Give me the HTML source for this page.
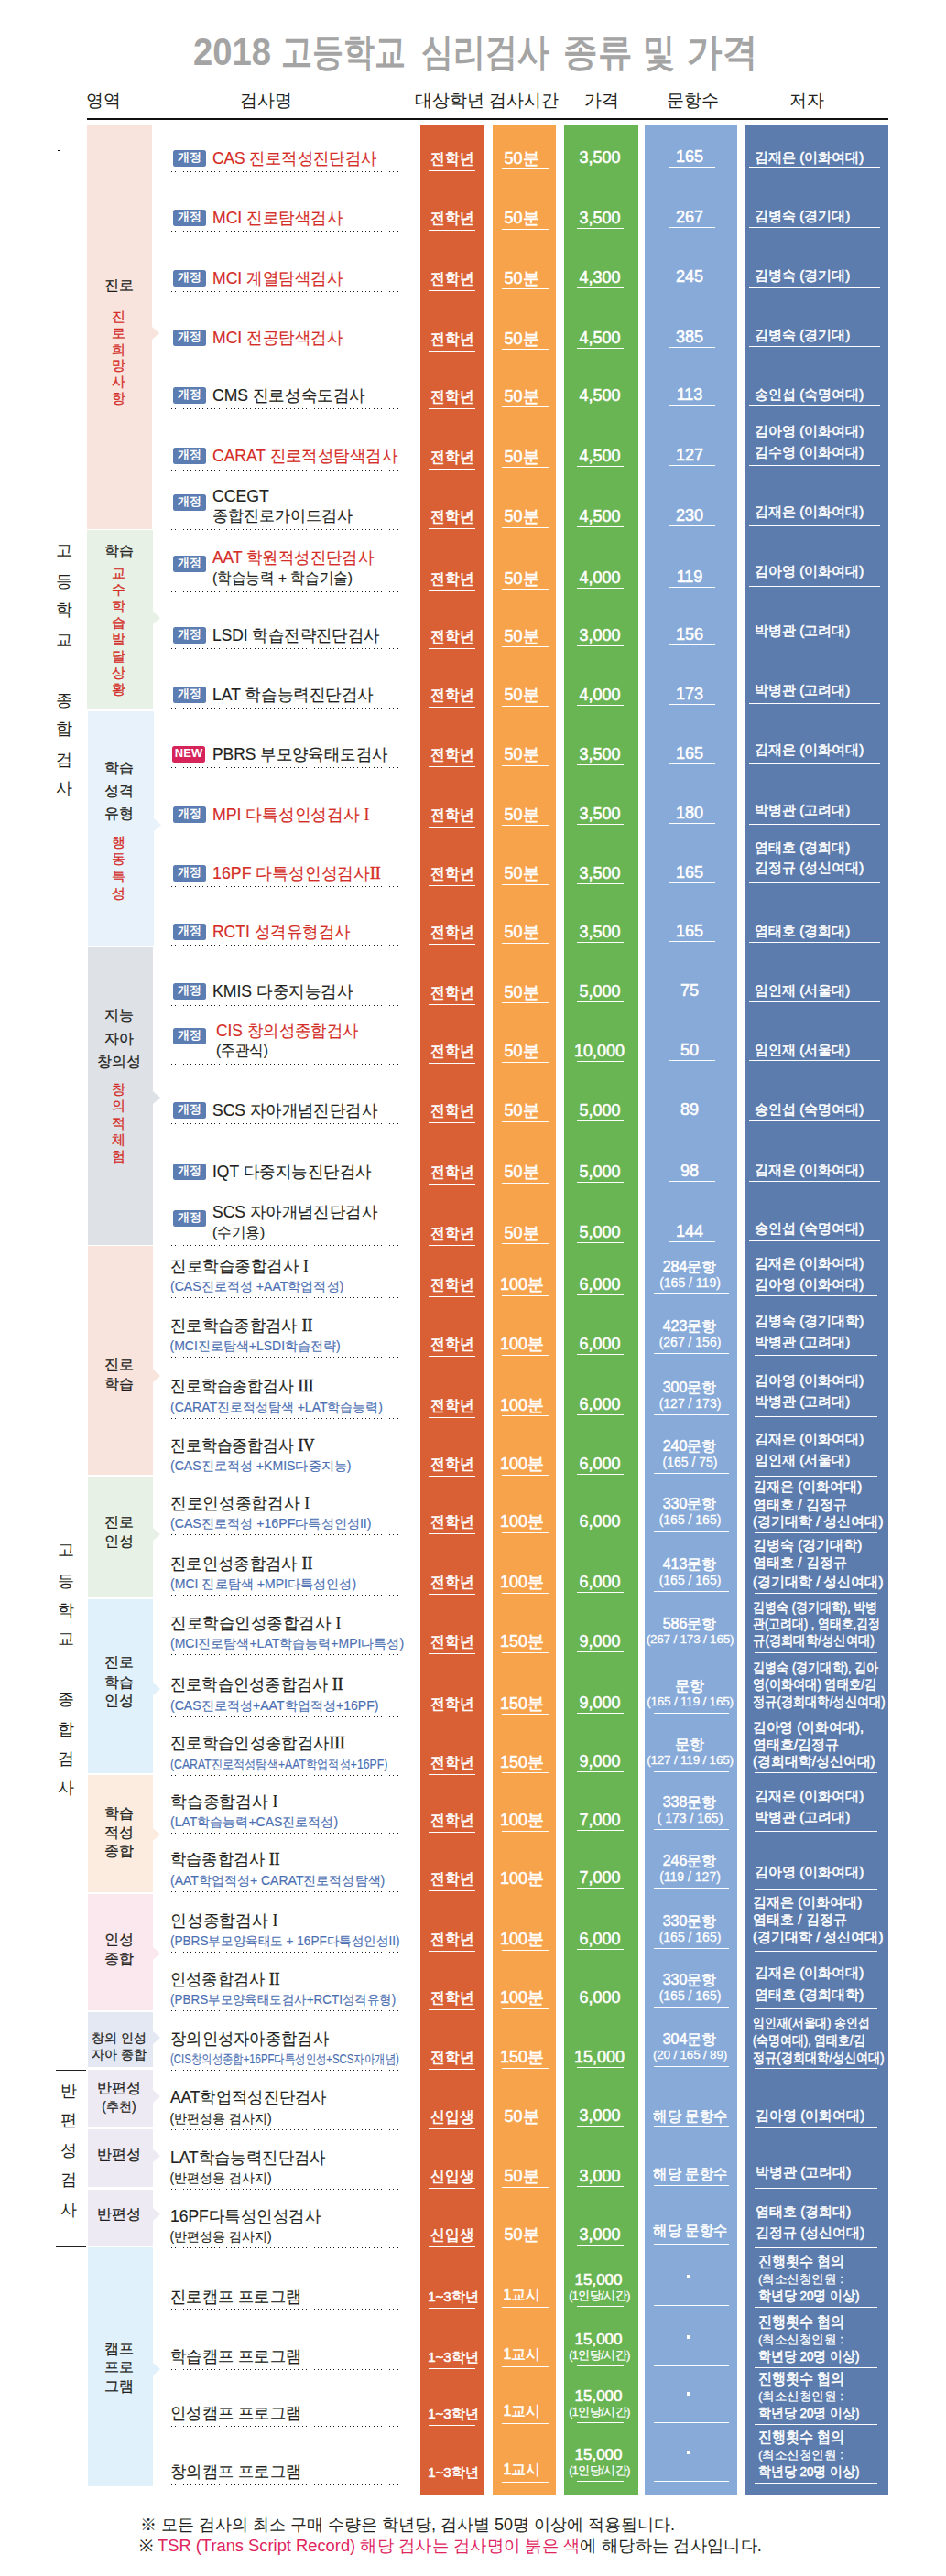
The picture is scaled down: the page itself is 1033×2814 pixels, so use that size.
<!DOCTYPE html>
<html><head><meta charset="utf-8"><style>
html,body{margin:0;padding:0;background:#fff;}
.dl{position:absolute;left:187px;width:248px;height:1px;background-image:linear-gradient(to right,#1a1a1a 0,#1a1a1a 1px,transparent 1px,transparent 4px,#1a1a1a 4px,#1a1a1a 5px,transparent 5px,transparent 8px,#1a1a1a 8px,#1a1a1a 9px,transparent 9px);background-size:13px 1px}
.t{position:absolute;height:40px;line-height:40px;white-space:nowrap}
body{width:1033px;height:2814px;position:relative;overflow:hidden;font-family:"Liberation Sans", sans-serif;}
</style></head><body>
<div class="t" style="top:36.7px;left:211px;font-size:42px;color:#a4a4a4;font-weight:bold;transform:scaleX(0.9097);transform-origin:0 50%;--fw:85.00"><span>2018</span></div>
<div class="t" style="top:36.7px;left:306.5px;font-size:42px;color:#a4a4a4;font-weight:bold;transform:scaleX(0.8095);transform-origin:0 50%;--fw:136.00"><span>고등학교</span></div>
<div class="t" style="top:36.7px;left:459.5px;font-size:42px;color:#a4a4a4;font-weight:bold;transform:scaleX(0.8363);transform-origin:0 50%;--fw:140.50"><span>심리검사</span></div>
<div class="t" style="top:36.7px;left:614.5px;font-size:42px;color:#a4a4a4;font-weight:bold;transform:scaleX(0.8929);transform-origin:0 50%;--fw:75.00"><span>종류</span></div>
<div class="t" style="top:36.7px;left:702px;font-size:42px;color:#a4a4a4;font-weight:bold;transform:scaleX(0.8333);transform-origin:0 50%;--fw:35.00"><span>및</span></div>
<div class="t" style="top:36.7px;left:750.4px;font-size:42px;color:#a4a4a4;font-weight:bold;transform:scaleX(0.9167);transform-origin:0 50%;--fw:77.00"><span>가격</span></div>
<div class="t" style="top:90.2px;left:13.0px;width:200px;text-align:center;font-size:19px;color:#231f20;font-weight:normal;transform-origin:50% 50%;--fw:38.00"><span>영역</span></div>
<div class="t" style="top:90.2px;left:190.0px;width:200px;text-align:center;font-size:19px;color:#231f20;font-weight:normal;transform-origin:50% 50%;--fw:57.00"><span>검사명</span></div>
<div class="t" style="top:90.2px;left:391.0px;width:200px;text-align:center;font-size:19px;color:#231f20;font-weight:normal;transform-origin:50% 50%;--fw:76.00"><span>대상학년</span></div>
<div class="t" style="top:90.2px;left:472.0px;width:200px;text-align:center;font-size:19px;color:#231f20;font-weight:normal;transform-origin:50% 50%;--fw:76.00"><span>검사시간</span></div>
<div class="t" style="top:90.2px;left:557.0px;width:200px;text-align:center;font-size:19px;color:#231f20;font-weight:normal;transform-origin:50% 50%;--fw:38.00"><span>가격</span></div>
<div class="t" style="top:90.2px;left:656.0px;width:200px;text-align:center;font-size:19px;color:#231f20;font-weight:normal;transform-origin:50% 50%;--fw:57.00"><span>문항수</span></div>
<div class="t" style="top:90.2px;left:781.0px;width:200px;text-align:center;font-size:19px;color:#231f20;font-weight:normal;transform-origin:50% 50%;--fw:38.00"><span>저자</span></div>
<div style="position:absolute;left:95px;top:129px;width:875px;height:2px;background:#111;"></div>
<div style="position:absolute;left:95px;top:137px;width:71px;height:441px;background:#f8e4dd;"></div>
<div style="position:absolute;left:166px;top:356.5px;width:0;height:0;border-top:7.5px solid transparent;border-bottom:7.5px solid transparent;border-left:8.5px solid #f8e4dd"></div>
<div style="position:absolute;left:95px;top:579px;width:72px;height:196px;background:#e7f1e6;"></div>
<div style="position:absolute;left:167px;top:668.1px;width:0;height:0;border-top:7.5px solid transparent;border-bottom:7.5px solid transparent;border-left:8.5px solid #e7f1e6"></div>
<div style="position:absolute;left:96px;top:777px;width:72px;height:256px;background:#e8f2fa;"></div>
<div style="position:absolute;left:168px;top:894.1px;width:0;height:0;border-top:7.5px solid transparent;border-bottom:7.5px solid transparent;border-left:8.5px solid #e8f2fa"></div>
<div style="position:absolute;left:96px;top:1035px;width:71px;height:325px;background:#dee1e6;"></div>
<div style="position:absolute;left:167px;top:1192.3px;width:0;height:0;border-top:7.5px solid transparent;border-bottom:7.5px solid transparent;border-left:8.5px solid #dee1e6"></div>
<div style="position:absolute;left:96px;top:1361px;width:71px;height:250px;background:#f8e4dd;"></div>
<div style="position:absolute;left:167px;top:1495.8px;width:0;height:0;border-top:7.5px solid transparent;border-bottom:7.5px solid transparent;border-left:8.5px solid #f8e4dd"></div>
<div style="position:absolute;left:96px;top:1614px;width:71px;height:131px;background:#e7f1e6;"></div>
<div style="position:absolute;left:167px;top:1668.9px;width:0;height:0;border-top:7.5px solid transparent;border-bottom:7.5px solid transparent;border-left:8.5px solid #e7f1e6"></div>
<div style="position:absolute;left:96px;top:1747px;width:71px;height:190px;background:#e1f1fb;"></div>
<div style="position:absolute;left:167px;top:1837.5px;width:0;height:0;border-top:7.5px solid transparent;border-bottom:7.5px solid transparent;border-left:8.5px solid #e1f1fb"></div>
<div style="position:absolute;left:96px;top:1939px;width:71px;height:128px;background:#fcecdf;"></div>
<div style="position:absolute;left:167px;top:1996.5px;width:0;height:0;border-top:7.5px solid transparent;border-bottom:7.5px solid transparent;border-left:8.5px solid #fcecdf"></div>
<div style="position:absolute;left:96px;top:2069px;width:71px;height:127px;background:#fbe8ef;"></div>
<div style="position:absolute;left:167px;top:2126.9px;width:0;height:0;border-top:7.5px solid transparent;border-bottom:7.5px solid transparent;border-left:8.5px solid #fbe8ef"></div>
<div style="position:absolute;left:96px;top:2198px;width:71px;height:60px;background:#e3e8f2;"></div>
<div style="position:absolute;left:167px;top:2218.8px;width:0;height:0;border-top:7.5px solid transparent;border-bottom:7.5px solid transparent;border-left:8.5px solid #e3e8f2"></div>
<div style="position:absolute;left:96px;top:2261px;width:71px;height:62px;background:#eeeaf3;"></div>
<div style="position:absolute;left:167px;top:2283.2px;width:0;height:0;border-top:7.5px solid transparent;border-bottom:7.5px solid transparent;border-left:8.5px solid #eeeaf3"></div>
<div style="position:absolute;left:96px;top:2326px;width:71px;height:63px;background:#eeeaf3;"></div>
<div style="position:absolute;left:167px;top:2348.0px;width:0;height:0;border-top:7.5px solid transparent;border-bottom:7.5px solid transparent;border-left:8.5px solid #eeeaf3"></div>
<div style="position:absolute;left:96px;top:2392px;width:71px;height:61px;background:#eeeaf3;"></div>
<div style="position:absolute;left:167px;top:2412.4px;width:0;height:0;border-top:7.5px solid transparent;border-bottom:7.5px solid transparent;border-left:8.5px solid #eeeaf3"></div>
<div style="position:absolute;left:96px;top:2455px;width:71px;height:261px;background:#e1f1fb;"></div>
<div style="position:absolute;left:167px;top:2581.1px;width:0;height:0;border-top:7.5px solid transparent;border-bottom:7.5px solid transparent;border-left:8.5px solid #e1f1fb"></div>
<div class="t" style="top:292.0px;left:80.0px;width:100px;text-align:center;font-size:16px;color:#231f20;font-weight:normal;-webkit-text-stroke:0.25px #231f20;transform-origin:50% 50%;--fw:32.00"><span>진로</span></div>
<div class="t" style="top:326.0px;left:109.5px;width:40px;text-align:center;font-size:14.5px;color:#d42d27;font-weight:normal;-webkit-text-stroke:0.3px #d42d27;transform-origin:50% 50%;--fw:15.00"><span>진</span></div>
<div class="t" style="top:343.8px;left:109.5px;width:40px;text-align:center;font-size:14.5px;color:#d42d27;font-weight:normal;-webkit-text-stroke:0.3px #d42d27;transform-origin:50% 50%;--fw:15.00"><span>로</span></div>
<div class="t" style="top:361.6px;left:109.5px;width:40px;text-align:center;font-size:14.5px;color:#d42d27;font-weight:normal;-webkit-text-stroke:0.3px #d42d27;transform-origin:50% 50%;--fw:15.00"><span>희</span></div>
<div class="t" style="top:379.4px;left:109.5px;width:40px;text-align:center;font-size:14.5px;color:#d42d27;font-weight:normal;-webkit-text-stroke:0.3px #d42d27;transform-origin:50% 50%;--fw:15.00"><span>망</span></div>
<div class="t" style="top:397.2px;left:109.5px;width:40px;text-align:center;font-size:14.5px;color:#d42d27;font-weight:normal;-webkit-text-stroke:0.3px #d42d27;transform-origin:50% 50%;--fw:15.00"><span>사</span></div>
<div class="t" style="top:415.0px;left:109.5px;width:40px;text-align:center;font-size:14.5px;color:#d42d27;font-weight:normal;-webkit-text-stroke:0.3px #d42d27;transform-origin:50% 50%;--fw:15.00"><span>항</span></div>
<div class="t" style="top:582.0px;left:80.0px;width:100px;text-align:center;font-size:16px;color:#231f20;font-weight:normal;-webkit-text-stroke:0.25px #231f20;transform-origin:50% 50%;--fw:32.00"><span>학습</span></div>
<div class="t" style="top:606.0px;left:109.5px;width:40px;text-align:center;font-size:14.5px;color:#d42d27;font-weight:normal;-webkit-text-stroke:0.3px #d42d27;transform-origin:50% 50%;--fw:15.00"><span>교</span></div>
<div class="t" style="top:624.1px;left:109.5px;width:40px;text-align:center;font-size:14.5px;color:#d42d27;font-weight:normal;-webkit-text-stroke:0.3px #d42d27;transform-origin:50% 50%;--fw:15.00"><span>수</span></div>
<div class="t" style="top:642.2px;left:109.5px;width:40px;text-align:center;font-size:14.5px;color:#d42d27;font-weight:normal;-webkit-text-stroke:0.3px #d42d27;transform-origin:50% 50%;--fw:15.00"><span>학</span></div>
<div class="t" style="top:660.3px;left:109.5px;width:40px;text-align:center;font-size:14.5px;color:#d42d27;font-weight:normal;-webkit-text-stroke:0.3px #d42d27;transform-origin:50% 50%;--fw:15.00"><span>습</span></div>
<div class="t" style="top:678.4px;left:109.5px;width:40px;text-align:center;font-size:14.5px;color:#d42d27;font-weight:normal;-webkit-text-stroke:0.3px #d42d27;transform-origin:50% 50%;--fw:15.00"><span>발</span></div>
<div class="t" style="top:696.5px;left:109.5px;width:40px;text-align:center;font-size:14.5px;color:#d42d27;font-weight:normal;-webkit-text-stroke:0.3px #d42d27;transform-origin:50% 50%;--fw:15.00"><span>달</span></div>
<div class="t" style="top:714.6px;left:109.5px;width:40px;text-align:center;font-size:14.5px;color:#d42d27;font-weight:normal;-webkit-text-stroke:0.3px #d42d27;transform-origin:50% 50%;--fw:15.00"><span>상</span></div>
<div class="t" style="top:732.7px;left:109.5px;width:40px;text-align:center;font-size:14.5px;color:#d42d27;font-weight:normal;-webkit-text-stroke:0.3px #d42d27;transform-origin:50% 50%;--fw:15.00"><span>황</span></div>
<div class="t" style="top:819.0px;left:80.0px;width:100px;text-align:center;font-size:16px;color:#231f20;font-weight:normal;-webkit-text-stroke:0.25px #231f20;transform-origin:50% 50%;--fw:32.00"><span>학습</span></div>
<div class="t" style="top:844.0px;left:80.0px;width:100px;text-align:center;font-size:16px;color:#231f20;font-weight:normal;-webkit-text-stroke:0.25px #231f20;transform-origin:50% 50%;--fw:32.00"><span>성격</span></div>
<div class="t" style="top:869.0px;left:80.0px;width:100px;text-align:center;font-size:16px;color:#231f20;font-weight:normal;-webkit-text-stroke:0.25px #231f20;transform-origin:50% 50%;--fw:32.00"><span>유형</span></div>
<div class="t" style="top:899.7px;left:109.5px;width:40px;text-align:center;font-size:14.5px;color:#d42d27;font-weight:normal;-webkit-text-stroke:0.3px #d42d27;transform-origin:50% 50%;--fw:15.00"><span>행</span></div>
<div class="t" style="top:918.3000000000001px;left:109.5px;width:40px;text-align:center;font-size:14.5px;color:#d42d27;font-weight:normal;-webkit-text-stroke:0.3px #d42d27;transform-origin:50% 50%;--fw:15.00"><span>동</span></div>
<div class="t" style="top:936.9000000000001px;left:109.5px;width:40px;text-align:center;font-size:14.5px;color:#d42d27;font-weight:normal;-webkit-text-stroke:0.3px #d42d27;transform-origin:50% 50%;--fw:15.00"><span>특</span></div>
<div class="t" style="top:955.5px;left:109.5px;width:40px;text-align:center;font-size:14.5px;color:#d42d27;font-weight:normal;-webkit-text-stroke:0.3px #d42d27;transform-origin:50% 50%;--fw:15.00"><span>성</span></div>
<div class="t" style="top:1088.8px;left:80.0px;width:100px;text-align:center;font-size:16px;color:#231f20;font-weight:normal;-webkit-text-stroke:0.25px #231f20;transform-origin:50% 50%;--fw:32.00"><span>지능</span></div>
<div class="t" style="top:1114.5px;left:80.0px;width:100px;text-align:center;font-size:16px;color:#231f20;font-weight:normal;-webkit-text-stroke:0.25px #231f20;transform-origin:50% 50%;--fw:32.00"><span>자아</span></div>
<div class="t" style="top:1139.8px;left:80.0px;width:100px;text-align:center;font-size:16px;color:#231f20;font-weight:normal;-webkit-text-stroke:0.25px #231f20;transform-origin:50% 50%;--fw:48.00"><span>창의성</span></div>
<div class="t" style="top:1170.0px;left:109.5px;width:40px;text-align:center;font-size:14.5px;color:#d42d27;font-weight:normal;-webkit-text-stroke:0.3px #d42d27;transform-origin:50% 50%;--fw:15.00"><span>창</span></div>
<div class="t" style="top:1188.3px;left:109.5px;width:40px;text-align:center;font-size:14.5px;color:#d42d27;font-weight:normal;-webkit-text-stroke:0.3px #d42d27;transform-origin:50% 50%;--fw:15.00"><span>의</span></div>
<div class="t" style="top:1206.6px;left:109.5px;width:40px;text-align:center;font-size:14.5px;color:#d42d27;font-weight:normal;-webkit-text-stroke:0.3px #d42d27;transform-origin:50% 50%;--fw:15.00"><span>적</span></div>
<div class="t" style="top:1224.9px;left:109.5px;width:40px;text-align:center;font-size:14.5px;color:#d42d27;font-weight:normal;-webkit-text-stroke:0.3px #d42d27;transform-origin:50% 50%;--fw:15.00"><span>체</span></div>
<div class="t" style="top:1243.2px;left:109.5px;width:40px;text-align:center;font-size:14.5px;color:#d42d27;font-weight:normal;-webkit-text-stroke:0.3px #d42d27;transform-origin:50% 50%;--fw:15.00"><span>험</span></div>
<div class="t" style="top:1471.3px;left:80.0px;width:100px;text-align:center;font-size:16px;color:#231f20;font-weight:normal;-webkit-text-stroke:0.25px #231f20;transform-origin:50% 50%;--fw:32.00"><span>진로</span></div>
<div class="t" style="top:1492.2px;left:80.0px;width:100px;text-align:center;font-size:16px;color:#231f20;font-weight:normal;-webkit-text-stroke:0.25px #231f20;transform-origin:50% 50%;--fw:32.00"><span>학습</span></div>
<div class="t" style="top:1643.0px;left:80.0px;width:100px;text-align:center;font-size:16px;color:#231f20;font-weight:normal;-webkit-text-stroke:0.25px #231f20;transform-origin:50% 50%;--fw:32.00"><span>진로</span></div>
<div class="t" style="top:1664.0px;left:80.0px;width:100px;text-align:center;font-size:16px;color:#231f20;font-weight:normal;-webkit-text-stroke:0.25px #231f20;transform-origin:50% 50%;--fw:32.00"><span>인성</span></div>
<div class="t" style="top:1796.3px;left:80.0px;width:100px;text-align:center;font-size:16px;color:#231f20;font-weight:normal;-webkit-text-stroke:0.25px #231f20;transform-origin:50% 50%;--fw:32.00"><span>진로</span></div>
<div class="t" style="top:1817.6px;left:80.0px;width:100px;text-align:center;font-size:16px;color:#231f20;font-weight:normal;-webkit-text-stroke:0.25px #231f20;transform-origin:50% 50%;--fw:32.00"><span>학습</span></div>
<div class="t" style="top:1837.6px;left:80.0px;width:100px;text-align:center;font-size:16px;color:#231f20;font-weight:normal;-webkit-text-stroke:0.25px #231f20;transform-origin:50% 50%;--fw:32.00"><span>인성</span></div>
<div class="t" style="top:1960.8px;left:80.0px;width:100px;text-align:center;font-size:16px;color:#231f20;font-weight:normal;-webkit-text-stroke:0.25px #231f20;transform-origin:50% 50%;--fw:32.00"><span>학습</span></div>
<div class="t" style="top:1982.0px;left:80.0px;width:100px;text-align:center;font-size:16px;color:#231f20;font-weight:normal;-webkit-text-stroke:0.25px #231f20;transform-origin:50% 50%;--fw:32.00"><span>적성</span></div>
<div class="t" style="top:2002.0px;left:80.0px;width:100px;text-align:center;font-size:16px;color:#231f20;font-weight:normal;-webkit-text-stroke:0.25px #231f20;transform-origin:50% 50%;--fw:32.00"><span>종합</span></div>
<div class="t" style="top:2099.0px;left:80.0px;width:100px;text-align:center;font-size:16px;color:#231f20;font-weight:normal;-webkit-text-stroke:0.25px #231f20;transform-origin:50% 50%;--fw:32.00"><span>인성</span></div>
<div class="t" style="top:2119.8px;left:80.0px;width:100px;text-align:center;font-size:16px;color:#231f20;font-weight:normal;-webkit-text-stroke:0.25px #231f20;transform-origin:50% 50%;--fw:32.00"><span>종합</span></div>
<div class="t" style="top:2206.3px;left:80.0px;width:100px;text-align:center;font-size:14px;color:#231f20;font-weight:normal;-webkit-text-stroke:0.25px #231f20;transform-origin:50% 50%;--fw:59.89"><span>창의 인성</span></div>
<div class="t" style="top:2224.1px;left:80.0px;width:100px;text-align:center;font-size:14px;color:#231f20;font-weight:normal;-webkit-text-stroke:0.25px #231f20;transform-origin:50% 50%;--fw:59.89"><span>자아 종합</span></div>
<div class="t" style="top:2260.5px;left:80.0px;width:100px;text-align:center;font-size:16px;color:#231f20;font-weight:normal;-webkit-text-stroke:0.25px #231f20;transform-origin:50% 50%;--fw:48.00"><span>반편성</span></div>
<div class="t" style="top:2281.0px;left:80.0px;width:100px;text-align:center;font-size:14px;color:#231f20;font-weight:normal;-webkit-text-stroke:0.25px #231f20;transform-origin:50% 50%;--fw:37.33"><span>(추천)</span></div>
<div class="t" style="top:2334.2px;left:80.0px;width:100px;text-align:center;font-size:16px;color:#231f20;font-weight:normal;-webkit-text-stroke:0.25px #231f20;transform-origin:50% 50%;--fw:48.00"><span>반편성</span></div>
<div class="t" style="top:2399.0px;left:80.0px;width:100px;text-align:center;font-size:16px;color:#231f20;font-weight:normal;-webkit-text-stroke:0.25px #231f20;transform-origin:50% 50%;--fw:48.00"><span>반편성</span></div>
<div class="t" style="top:2546.4px;left:80.0px;width:100px;text-align:center;font-size:16px;color:#231f20;font-weight:normal;-webkit-text-stroke:0.25px #231f20;transform-origin:50% 50%;--fw:32.00"><span>캠프</span></div>
<div class="t" style="top:2566.4px;left:80.0px;width:100px;text-align:center;font-size:16px;color:#231f20;font-weight:normal;-webkit-text-stroke:0.25px #231f20;transform-origin:50% 50%;--fw:32.00"><span>프로</span></div>
<div class="t" style="top:2587.2px;left:80.0px;width:100px;text-align:center;font-size:16px;color:#231f20;font-weight:normal;-webkit-text-stroke:0.25px #231f20;transform-origin:50% 50%;--fw:32.00"><span>그램</span></div>
<div class="t" style="top:581.0px;left:49.5px;width:40px;text-align:center;font-size:18px;color:#231f20;font-weight:normal;transform-origin:50% 50%;--fw:18.00"><span>고</span></div>
<div class="t" style="top:614.8px;left:49.5px;width:40px;text-align:center;font-size:18px;color:#231f20;font-weight:normal;transform-origin:50% 50%;--fw:18.00"><span>등</span></div>
<div class="t" style="top:646.2px;left:49.5px;width:40px;text-align:center;font-size:18px;color:#231f20;font-weight:normal;transform-origin:50% 50%;--fw:18.00"><span>학</span></div>
<div class="t" style="top:679.1px;left:49.5px;width:40px;text-align:center;font-size:18px;color:#231f20;font-weight:normal;transform-origin:50% 50%;--fw:18.00"><span>교</span></div>
<div class="t" style="top:744.6px;left:49.5px;width:40px;text-align:center;font-size:18px;color:#231f20;font-weight:normal;transform-origin:50% 50%;--fw:18.00"><span>종</span></div>
<div class="t" style="top:776.1px;left:49.5px;width:40px;text-align:center;font-size:18px;color:#231f20;font-weight:normal;transform-origin:50% 50%;--fw:18.00"><span>합</span></div>
<div class="t" style="top:810.0px;left:49.5px;width:40px;text-align:center;font-size:18px;color:#231f20;font-weight:normal;transform-origin:50% 50%;--fw:18.00"><span>검</span></div>
<div class="t" style="top:841.4px;left:49.5px;width:40px;text-align:center;font-size:18px;color:#231f20;font-weight:normal;transform-origin:50% 50%;--fw:18.00"><span>사</span></div>
<div class="t" style="top:1673.0px;left:51.7px;width:40px;text-align:center;font-size:18px;color:#231f20;font-weight:normal;transform-origin:50% 50%;--fw:18.00"><span>고</span></div>
<div class="t" style="top:1706.5px;left:51.7px;width:40px;text-align:center;font-size:18px;color:#231f20;font-weight:normal;transform-origin:50% 50%;--fw:18.00"><span>등</span></div>
<div class="t" style="top:1738.5px;left:51.7px;width:40px;text-align:center;font-size:18px;color:#231f20;font-weight:normal;transform-origin:50% 50%;--fw:18.00"><span>학</span></div>
<div class="t" style="top:1770.0px;left:51.7px;width:40px;text-align:center;font-size:18px;color:#231f20;font-weight:normal;transform-origin:50% 50%;--fw:18.00"><span>교</span></div>
<div class="t" style="top:1835.5px;left:51.7px;width:40px;text-align:center;font-size:18px;color:#231f20;font-weight:normal;transform-origin:50% 50%;--fw:18.00"><span>종</span></div>
<div class="t" style="top:1868.5px;left:51.7px;width:40px;text-align:center;font-size:18px;color:#231f20;font-weight:normal;transform-origin:50% 50%;--fw:18.00"><span>합</span></div>
<div class="t" style="top:1900.8px;left:51.7px;width:40px;text-align:center;font-size:18px;color:#231f20;font-weight:normal;transform-origin:50% 50%;--fw:18.00"><span>검</span></div>
<div class="t" style="top:1932.9px;left:51.7px;width:40px;text-align:center;font-size:18px;color:#231f20;font-weight:normal;transform-origin:50% 50%;--fw:18.00"><span>사</span></div>
<div class="t" style="top:2264.0px;left:54.599999999999994px;width:40px;text-align:center;font-size:18px;color:#231f20;font-weight:normal;transform-origin:50% 50%;--fw:18.00"><span>반</span></div>
<div class="t" style="top:2296.3px;left:54.599999999999994px;width:40px;text-align:center;font-size:18px;color:#231f20;font-weight:normal;transform-origin:50% 50%;--fw:18.00"><span>편</span></div>
<div class="t" style="top:2329.0px;left:54.599999999999994px;width:40px;text-align:center;font-size:18px;color:#231f20;font-weight:normal;transform-origin:50% 50%;--fw:18.00"><span>성</span></div>
<div class="t" style="top:2361.3px;left:54.599999999999994px;width:40px;text-align:center;font-size:18px;color:#231f20;font-weight:normal;transform-origin:50% 50%;--fw:18.00"><span>검</span></div>
<div class="t" style="top:2393.7px;left:54.599999999999994px;width:40px;text-align:center;font-size:18px;color:#231f20;font-weight:normal;transform-origin:50% 50%;--fw:18.00"><span>사</span></div>
<div style="position:absolute;left:61px;top:2261px;width:33px;height:1px;background:#231f20;"></div>
<div style="position:absolute;left:61px;top:2454px;width:33px;height:1px;background:#231f20;"></div>
<div style="position:absolute;left:63px;top:164px;width:2px;height:1px;background:#000;"></div>
<div style="position:absolute;left:459px;top:137px;width:69px;height:2588px;background:#d95f34;"></div>
<div style="position:absolute;left:538px;top:137px;width:69px;height:2588px;background:#f7a34b;"></div>
<div style="position:absolute;left:616px;top:137px;width:81px;height:2588px;background:#6ab553;"></div>
<div style="position:absolute;left:704px;top:137px;width:101px;height:2588px;background:#87aad9;"></div>
<div style="position:absolute;left:813px;top:137px;width:157px;height:2588px;background:#5c7cae;"></div>
<div class="dl" style="top:187px"></div>
<div style="position:absolute;left:189px;top:163.55px;width:36px;height:18px;border-radius:2.5px;background:#5b7db1;color:#fff;font-size:13px;font-weight:bold;line-height:15px;text-align:center">개정</div>
<div class="t" style="top:152.5px;left:232px;font-size:18px;color:#d42d27;font-weight:normal;-webkit-text-stroke:0.15px currentColor;transform:scaleX(0.9639);transform-origin:0 50%;--fw:179.30"><span>CAS 진로적성진단검사</span></div>
<div style="position:absolute;left:468px;top:185.8px;width:51px;height:1.0px;background:#fff;"></div>
<div class="t" style="top:153.8px;left:393.5px;width:200px;text-align:center;font-size:17px;color:#fff;font-weight:normal;-webkit-text-stroke:0.55px #fff;transform:scaleX(0.9216);transform-origin:50% 50%;--fw:47.00"><span>전학년</span></div>
<div style="position:absolute;left:548px;top:184.3px;width:51px;height:1.0px;background:#fff;"></div>
<div class="t" style="top:152.8px;left:469.5px;width:200px;text-align:center;font-size:18px;color:#fff;font-weight:normal;-webkit-text-stroke:0.55px #fff;transform-origin:50% 50%;--fw:38.03"><span>50분</span></div>
<div style="position:absolute;left:630px;top:183.3px;width:51px;height:1.0px;background:#fff;"></div>
<div class="t" style="top:152.3px;left:554.5px;width:200px;text-align:center;font-size:18px;color:#fff;font-weight:normal;-webkit-text-stroke:0.55px #fff;transform-origin:50% 50%;--fw:45.05"><span>3,500</span></div>
<div style="position:absolute;left:729.5px;top:182.3px;width:51.0px;height:1.0px;background:#fff;"></div>
<div class="t" style="top:151.3px;left:653.0px;width:200px;text-align:center;font-size:18px;color:#fff;font-weight:normal;-webkit-text-stroke:0.55px #fff;transform-origin:50% 50%;--fw:30.05"><span>165</span></div>
<div style="position:absolute;left:818px;top:182px;width:143px;height:1px;background:#fff;"></div>
<div class="t" style="top:151.5px;left:824px;font-size:15px;color:#fff;font-weight:normal;-webkit-text-stroke:0.55px #fff;transform-origin:0 50%;--fw:119.17"><span>김재은 (이화여대)</span></div>
<div class="dl" style="top:252px"></div>
<div style="position:absolute;left:189px;top:228.85px;width:36px;height:18px;border-radius:2.5px;background:#5b7db1;color:#fff;font-size:13px;font-weight:bold;line-height:15px;text-align:center">개정</div>
<div class="t" style="top:217.79999999999998px;left:232px;font-size:18px;color:#d42d27;font-weight:normal;-webkit-text-stroke:0.15px currentColor;transform:scaleX(0.9760);transform-origin:0 50%;--fw:142.50"><span>MCI 진로탐색검사</span></div>
<div style="position:absolute;left:468px;top:251.1px;width:51px;height:1.0px;background:#fff;"></div>
<div class="t" style="top:219.1px;left:393.5px;width:200px;text-align:center;font-size:17px;color:#fff;font-weight:normal;-webkit-text-stroke:0.55px #fff;transform:scaleX(0.9216);transform-origin:50% 50%;--fw:47.00"><span>전학년</span></div>
<div style="position:absolute;left:548px;top:249.6px;width:51px;height:1.0px;background:#fff;"></div>
<div class="t" style="top:218.1px;left:469.5px;width:200px;text-align:center;font-size:18px;color:#fff;font-weight:normal;-webkit-text-stroke:0.55px #fff;transform-origin:50% 50%;--fw:38.03"><span>50분</span></div>
<div style="position:absolute;left:630px;top:248.6px;width:51px;height:1.0px;background:#fff;"></div>
<div class="t" style="top:217.6px;left:554.5px;width:200px;text-align:center;font-size:18px;color:#fff;font-weight:normal;-webkit-text-stroke:0.55px #fff;transform-origin:50% 50%;--fw:45.05"><span>3,500</span></div>
<div style="position:absolute;left:729.5px;top:247.6px;width:51.0px;height:1.0px;background:#fff;"></div>
<div class="t" style="top:216.6px;left:653.0px;width:200px;text-align:center;font-size:18px;color:#fff;font-weight:normal;-webkit-text-stroke:0.55px #fff;transform-origin:50% 50%;--fw:30.05"><span>267</span></div>
<div style="position:absolute;left:818px;top:248px;width:143px;height:1px;background:#fff;"></div>
<div class="t" style="top:216.0px;left:824px;font-size:15px;color:#fff;font-weight:normal;-webkit-text-stroke:0.55px #fff;transform-origin:0 50%;--fw:104.17"><span>김병숙 (경기대)</span></div>
<div class="dl" style="top:318px"></div>
<div style="position:absolute;left:189px;top:294.55px;width:36px;height:18px;border-radius:2.5px;background:#5b7db1;color:#fff;font-size:13px;font-weight:bold;line-height:15px;text-align:center">개정</div>
<div class="t" style="top:283.5px;left:232px;font-size:18px;color:#d42d27;font-weight:normal;-webkit-text-stroke:0.15px currentColor;transform:scaleX(0.9760);transform-origin:0 50%;--fw:142.50"><span>MCI 계열탐색검사</span></div>
<div style="position:absolute;left:468px;top:316.8px;width:51px;height:1.0px;background:#fff;"></div>
<div class="t" style="top:284.8px;left:393.5px;width:200px;text-align:center;font-size:17px;color:#fff;font-weight:normal;-webkit-text-stroke:0.55px #fff;transform:scaleX(0.9216);transform-origin:50% 50%;--fw:47.00"><span>전학년</span></div>
<div style="position:absolute;left:548px;top:315.3px;width:51px;height:1.0px;background:#fff;"></div>
<div class="t" style="top:283.8px;left:469.5px;width:200px;text-align:center;font-size:18px;color:#fff;font-weight:normal;-webkit-text-stroke:0.55px #fff;transform-origin:50% 50%;--fw:38.03"><span>50분</span></div>
<div style="position:absolute;left:630px;top:314.3px;width:51px;height:1.0px;background:#fff;"></div>
<div class="t" style="top:283.3px;left:554.5px;width:200px;text-align:center;font-size:18px;color:#fff;font-weight:normal;-webkit-text-stroke:0.55px #fff;transform-origin:50% 50%;--fw:45.05"><span>4,300</span></div>
<div style="position:absolute;left:729.5px;top:313.3px;width:51.0px;height:1.0px;background:#fff;"></div>
<div class="t" style="top:282.3px;left:653.0px;width:200px;text-align:center;font-size:18px;color:#fff;font-weight:normal;-webkit-text-stroke:0.55px #fff;transform-origin:50% 50%;--fw:30.05"><span>245</span></div>
<div style="position:absolute;left:818px;top:314px;width:143px;height:1px;background:#fff;"></div>
<div class="t" style="top:281.2px;left:824px;font-size:15px;color:#fff;font-weight:normal;-webkit-text-stroke:0.55px #fff;transform-origin:0 50%;--fw:104.17"><span>김병숙 (경기대)</span></div>
<div class="dl" style="top:384px"></div>
<div style="position:absolute;left:189px;top:360.25px;width:36px;height:18px;border-radius:2.5px;background:#5b7db1;color:#fff;font-size:13px;font-weight:bold;line-height:15px;text-align:center">개정</div>
<div class="t" style="top:349.2px;left:232px;font-size:18px;color:#d42d27;font-weight:normal;-webkit-text-stroke:0.15px currentColor;transform:scaleX(0.9760);transform-origin:0 50%;--fw:142.50"><span>MCI 전공탐색검사</span></div>
<div style="position:absolute;left:468px;top:382.5px;width:51px;height:1.0px;background:#fff;"></div>
<div class="t" style="top:350.5px;left:393.5px;width:200px;text-align:center;font-size:17px;color:#fff;font-weight:normal;-webkit-text-stroke:0.55px #fff;transform:scaleX(0.9216);transform-origin:50% 50%;--fw:47.00"><span>전학년</span></div>
<div style="position:absolute;left:548px;top:381.0px;width:51px;height:1.0px;background:#fff;"></div>
<div class="t" style="top:349.5px;left:469.5px;width:200px;text-align:center;font-size:18px;color:#fff;font-weight:normal;-webkit-text-stroke:0.55px #fff;transform-origin:50% 50%;--fw:38.03"><span>50분</span></div>
<div style="position:absolute;left:630px;top:380.0px;width:51px;height:1.0px;background:#fff;"></div>
<div class="t" style="top:349.0px;left:554.5px;width:200px;text-align:center;font-size:18px;color:#fff;font-weight:normal;-webkit-text-stroke:0.55px #fff;transform-origin:50% 50%;--fw:45.05"><span>4,500</span></div>
<div style="position:absolute;left:729.5px;top:379.0px;width:51.0px;height:1.0px;background:#fff;"></div>
<div class="t" style="top:348.0px;left:653.0px;width:200px;text-align:center;font-size:18px;color:#fff;font-weight:normal;-webkit-text-stroke:0.55px #fff;transform-origin:50% 50%;--fw:30.05"><span>385</span></div>
<div style="position:absolute;left:818px;top:378px;width:143px;height:1px;background:#fff;"></div>
<div class="t" style="top:346.3px;left:824px;font-size:15px;color:#fff;font-weight:normal;-webkit-text-stroke:0.55px #fff;transform-origin:0 50%;--fw:104.17"><span>김병숙 (경기대)</span></div>
<div class="dl" style="top:446px"></div>
<div style="position:absolute;left:189px;top:423.25px;width:36px;height:18px;border-radius:2.5px;background:#5b7db1;color:#fff;font-size:13px;font-weight:bold;line-height:15px;text-align:center">개정</div>
<div class="t" style="top:412.2px;left:232px;font-size:18px;color:#231f20;font-weight:normal;-webkit-text-stroke:0.15px currentColor;transform:scaleX(0.9760);transform-origin:0 50%;--fw:166.90"><span>CMS 진로성숙도검사</span></div>
<div style="position:absolute;left:468px;top:445.5px;width:51px;height:1.0px;background:#fff;"></div>
<div class="t" style="top:413.5px;left:393.5px;width:200px;text-align:center;font-size:17px;color:#fff;font-weight:normal;-webkit-text-stroke:0.55px #fff;transform:scaleX(0.9216);transform-origin:50% 50%;--fw:47.00"><span>전학년</span></div>
<div style="position:absolute;left:548px;top:444.0px;width:51px;height:1.0px;background:#fff;"></div>
<div class="t" style="top:412.5px;left:469.5px;width:200px;text-align:center;font-size:18px;color:#fff;font-weight:normal;-webkit-text-stroke:0.55px #fff;transform-origin:50% 50%;--fw:38.03"><span>50분</span></div>
<div style="position:absolute;left:630px;top:443.0px;width:51px;height:1.0px;background:#fff;"></div>
<div class="t" style="top:412.0px;left:554.5px;width:200px;text-align:center;font-size:18px;color:#fff;font-weight:normal;-webkit-text-stroke:0.55px #fff;transform-origin:50% 50%;--fw:45.05"><span>4,500</span></div>
<div style="position:absolute;left:729.5px;top:442.0px;width:51.0px;height:1.0px;background:#fff;"></div>
<div class="t" style="top:411.0px;left:653.0px;width:200px;text-align:center;font-size:18px;color:#fff;font-weight:normal;-webkit-text-stroke:0.55px #fff;transform-origin:50% 50%;--fw:28.70"><span>113</span></div>
<div style="position:absolute;left:818px;top:442px;width:143px;height:1px;background:#fff;"></div>
<div class="t" style="top:411.0px;left:824px;font-size:15px;color:#fff;font-weight:normal;-webkit-text-stroke:0.55px #fff;transform-origin:0 50%;--fw:119.17"><span>송인섭 (숙명여대)</span></div>
<div class="dl" style="top:513px"></div>
<div style="position:absolute;left:189px;top:489.45000000000005px;width:36px;height:18px;border-radius:2.5px;background:#5b7db1;color:#fff;font-size:13px;font-weight:bold;line-height:15px;text-align:center">개정</div>
<div class="t" style="top:478.40000000000003px;left:232px;font-size:18px;color:#d42d27;font-weight:normal;-webkit-text-stroke:0.15px currentColor;transform:scaleX(0.9714);transform-origin:0 50%;--fw:202.40"><span>CARAT 진로적성탐색검사</span></div>
<div style="position:absolute;left:468px;top:511.70000000000005px;width:51px;height:1.0px;background:#fff;"></div>
<div class="t" style="top:479.70000000000005px;left:393.5px;width:200px;text-align:center;font-size:17px;color:#fff;font-weight:normal;-webkit-text-stroke:0.55px #fff;transform:scaleX(0.9216);transform-origin:50% 50%;--fw:47.00"><span>전학년</span></div>
<div style="position:absolute;left:548px;top:510.20000000000005px;width:51px;height:1.0px;background:#fff;"></div>
<div class="t" style="top:478.70000000000005px;left:469.5px;width:200px;text-align:center;font-size:18px;color:#fff;font-weight:normal;-webkit-text-stroke:0.55px #fff;transform-origin:50% 50%;--fw:38.03"><span>50분</span></div>
<div style="position:absolute;left:630px;top:509.20000000000005px;width:51px;height:1.0px;background:#fff;"></div>
<div class="t" style="top:478.20000000000005px;left:554.5px;width:200px;text-align:center;font-size:18px;color:#fff;font-weight:normal;-webkit-text-stroke:0.55px #fff;transform-origin:50% 50%;--fw:45.05"><span>4,500</span></div>
<div style="position:absolute;left:729.5px;top:508.20000000000005px;width:51.0px;height:1.0px;background:#fff;"></div>
<div class="t" style="top:477.20000000000005px;left:653.0px;width:200px;text-align:center;font-size:18px;color:#fff;font-weight:normal;-webkit-text-stroke:0.55px #fff;transform-origin:50% 50%;--fw:30.05"><span>127</span></div>
<div style="position:absolute;left:818px;top:508px;width:143px;height:1px;background:#fff;"></div>
<div class="t" style="top:450.5px;left:824px;font-size:15px;color:#fff;font-weight:normal;-webkit-text-stroke:0.55px #fff;transform-origin:0 50%;--fw:119.17"><span>김아영 (이화여대)</span></div>
<div class="t" style="top:473.6px;left:824px;font-size:15px;color:#fff;font-weight:normal;-webkit-text-stroke:0.55px #fff;transform-origin:0 50%;--fw:119.17"><span>김수영 (이화여대)</span></div>
<div class="dl" style="top:578px"></div>
<div style="position:absolute;left:189px;top:539.65px;width:36px;height:18px;border-radius:2.5px;background:#5b7db1;color:#fff;font-size:13px;font-weight:bold;line-height:15px;text-align:center">개정</div>
<div class="t" style="top:521.9px;left:232px;font-size:18px;color:#231f20;font-weight:normal;-webkit-text-stroke:0.15px currentColor;transform:scaleX(0.9794);transform-origin:0 50%;--fw:61.70"><span>CCEGT</span></div>
<div class="t" style="top:544.4px;left:232px;font-size:17px;color:#231f20;font-weight:normal;-webkit-text-stroke:0.15px currentColor;transform:scaleX(1.0033);transform-origin:0 50%;--fw:153.50"><span>종합진로가이드검사</span></div>
<div style="position:absolute;left:468px;top:577.4px;width:51px;height:1.0px;background:#fff;"></div>
<div class="t" style="top:545.4px;left:393.5px;width:200px;text-align:center;font-size:17px;color:#fff;font-weight:normal;-webkit-text-stroke:0.55px #fff;transform:scaleX(0.9216);transform-origin:50% 50%;--fw:47.00"><span>전학년</span></div>
<div style="position:absolute;left:548px;top:575.9px;width:51px;height:1.0px;background:#fff;"></div>
<div class="t" style="top:544.4px;left:469.5px;width:200px;text-align:center;font-size:18px;color:#fff;font-weight:normal;-webkit-text-stroke:0.55px #fff;transform-origin:50% 50%;--fw:38.03"><span>50분</span></div>
<div style="position:absolute;left:630px;top:574.9px;width:51px;height:1.0px;background:#fff;"></div>
<div class="t" style="top:543.9px;left:554.5px;width:200px;text-align:center;font-size:18px;color:#fff;font-weight:normal;-webkit-text-stroke:0.55px #fff;transform-origin:50% 50%;--fw:45.05"><span>4,500</span></div>
<div style="position:absolute;left:729.5px;top:573.9px;width:51.0px;height:1.0px;background:#fff;"></div>
<div class="t" style="top:542.9px;left:653.0px;width:200px;text-align:center;font-size:18px;color:#fff;font-weight:normal;-webkit-text-stroke:0.55px #fff;transform-origin:50% 50%;--fw:30.05"><span>230</span></div>
<div style="position:absolute;left:818px;top:574px;width:143px;height:1px;background:#fff;"></div>
<div class="t" style="top:539.0px;left:824px;font-size:15px;color:#fff;font-weight:normal;-webkit-text-stroke:0.55px #fff;transform-origin:0 50%;--fw:119.17"><span>김재은 (이화여대)</span></div>
<div class="dl" style="top:646px"></div>
<div style="position:absolute;left:189px;top:606.75px;width:36px;height:18px;border-radius:2.5px;background:#5b7db1;color:#fff;font-size:13px;font-weight:bold;line-height:15px;text-align:center">개정</div>
<div class="t" style="top:589.0px;left:232px;font-size:18px;color:#d42d27;font-weight:normal;-webkit-text-stroke:0.15px currentColor;transform:scaleX(0.9668);transform-origin:0 50%;--fw:176.30"><span>AAT 학원적성진단검사</span></div>
<div class="t" style="top:611.5px;left:232px;font-size:17px;color:#231f20;font-weight:normal;-webkit-text-stroke:0.15px currentColor;transform:scaleX(0.9172);transform-origin:0 50%;--fw:152.90"><span>(학습능력 + 학습기술)</span></div>
<div style="position:absolute;left:468px;top:644.5px;width:51px;height:1.0px;background:#fff;"></div>
<div class="t" style="top:612.5px;left:393.5px;width:200px;text-align:center;font-size:17px;color:#fff;font-weight:normal;-webkit-text-stroke:0.55px #fff;transform:scaleX(0.9216);transform-origin:50% 50%;--fw:47.00"><span>전학년</span></div>
<div style="position:absolute;left:548px;top:643.0px;width:51px;height:1.0px;background:#fff;"></div>
<div class="t" style="top:611.5px;left:469.5px;width:200px;text-align:center;font-size:18px;color:#fff;font-weight:normal;-webkit-text-stroke:0.55px #fff;transform-origin:50% 50%;--fw:38.03"><span>50분</span></div>
<div style="position:absolute;left:630px;top:642.0px;width:51px;height:1.0px;background:#fff;"></div>
<div class="t" style="top:611.0px;left:554.5px;width:200px;text-align:center;font-size:18px;color:#fff;font-weight:normal;-webkit-text-stroke:0.55px #fff;transform-origin:50% 50%;--fw:45.05"><span>4,000</span></div>
<div style="position:absolute;left:729.5px;top:641.0px;width:51.0px;height:1.0px;background:#fff;"></div>
<div class="t" style="top:610.0px;left:653.0px;width:200px;text-align:center;font-size:18px;color:#fff;font-weight:normal;-webkit-text-stroke:0.55px #fff;transform-origin:50% 50%;--fw:28.70"><span>119</span></div>
<div style="position:absolute;left:818px;top:640px;width:143px;height:1px;background:#fff;"></div>
<div class="t" style="top:603.6px;left:824px;font-size:15px;color:#fff;font-weight:normal;-webkit-text-stroke:0.55px #fff;transform-origin:0 50%;--fw:119.17"><span>김아영 (이화여대)</span></div>
<div class="dl" style="top:708px"></div>
<div style="position:absolute;left:189px;top:685.25px;width:36px;height:18px;border-radius:2.5px;background:#5b7db1;color:#fff;font-size:13px;font-weight:bold;line-height:15px;text-align:center">개정</div>
<div class="t" style="top:674.2px;left:232px;font-size:18px;color:#231f20;font-weight:normal;-webkit-text-stroke:0.15px currentColor;transform:scaleX(0.9649);transform-origin:0 50%;--fw:182.40"><span>LSDI 학습전략진단검사</span></div>
<div style="position:absolute;left:468px;top:707.5px;width:51px;height:1.0px;background:#fff;"></div>
<div class="t" style="top:675.5px;left:393.5px;width:200px;text-align:center;font-size:17px;color:#fff;font-weight:normal;-webkit-text-stroke:0.55px #fff;transform:scaleX(0.9216);transform-origin:50% 50%;--fw:47.00"><span>전학년</span></div>
<div style="position:absolute;left:548px;top:706.0px;width:51px;height:1.0px;background:#fff;"></div>
<div class="t" style="top:674.5px;left:469.5px;width:200px;text-align:center;font-size:18px;color:#fff;font-weight:normal;-webkit-text-stroke:0.55px #fff;transform-origin:50% 50%;--fw:38.03"><span>50분</span></div>
<div style="position:absolute;left:630px;top:705.0px;width:51px;height:1.0px;background:#fff;"></div>
<div class="t" style="top:674.0px;left:554.5px;width:200px;text-align:center;font-size:18px;color:#fff;font-weight:normal;-webkit-text-stroke:0.55px #fff;transform-origin:50% 50%;--fw:45.05"><span>3,000</span></div>
<div style="position:absolute;left:729.5px;top:704.0px;width:51.0px;height:1.0px;background:#fff;"></div>
<div class="t" style="top:673.0px;left:653.0px;width:200px;text-align:center;font-size:18px;color:#fff;font-weight:normal;-webkit-text-stroke:0.55px #fff;transform-origin:50% 50%;--fw:30.05"><span>156</span></div>
<div style="position:absolute;left:818px;top:703px;width:143px;height:1px;background:#fff;"></div>
<div class="t" style="top:669.2px;left:824px;font-size:15px;color:#fff;font-weight:normal;-webkit-text-stroke:0.55px #fff;transform-origin:0 50%;--fw:104.17"><span>박병관 (고려대)</span></div>
<div class="dl" style="top:773px"></div>
<div style="position:absolute;left:189px;top:750.05px;width:36px;height:18px;border-radius:2.5px;background:#5b7db1;color:#fff;font-size:13px;font-weight:bold;line-height:15px;text-align:center">개정</div>
<div class="t" style="top:739.0px;left:232px;font-size:18px;color:#231f20;font-weight:normal;-webkit-text-stroke:0.15px currentColor;transform:scaleX(0.9747);transform-origin:0 50%;--fw:175.80"><span>LAT 학습능력진단검사</span></div>
<div style="position:absolute;left:468px;top:772.3px;width:51px;height:1.0px;background:#fff;"></div>
<div class="t" style="top:740.3px;left:393.5px;width:200px;text-align:center;font-size:17px;color:#fff;font-weight:normal;-webkit-text-stroke:0.55px #fff;transform:scaleX(0.9216);transform-origin:50% 50%;--fw:47.00"><span>전학년</span></div>
<div style="position:absolute;left:548px;top:770.8px;width:51px;height:1.0px;background:#fff;"></div>
<div class="t" style="top:739.3px;left:469.5px;width:200px;text-align:center;font-size:18px;color:#fff;font-weight:normal;-webkit-text-stroke:0.55px #fff;transform-origin:50% 50%;--fw:38.03"><span>50분</span></div>
<div style="position:absolute;left:630px;top:769.8px;width:51px;height:1.0px;background:#fff;"></div>
<div class="t" style="top:738.8px;left:554.5px;width:200px;text-align:center;font-size:18px;color:#fff;font-weight:normal;-webkit-text-stroke:0.55px #fff;transform-origin:50% 50%;--fw:45.05"><span>4,000</span></div>
<div style="position:absolute;left:729.5px;top:768.8px;width:51.0px;height:1.0px;background:#fff;"></div>
<div class="t" style="top:737.8px;left:653.0px;width:200px;text-align:center;font-size:18px;color:#fff;font-weight:normal;-webkit-text-stroke:0.55px #fff;transform-origin:50% 50%;--fw:30.05"><span>173</span></div>
<div style="position:absolute;left:818px;top:768px;width:143px;height:1px;background:#fff;"></div>
<div class="t" style="top:734.0px;left:824px;font-size:15px;color:#fff;font-weight:normal;-webkit-text-stroke:0.55px #fff;transform-origin:0 50%;--fw:104.17"><span>박병관 (고려대)</span></div>
<div class="dl" style="top:838px"></div>
<div style="position:absolute;left:188px;top:814.95px;width:36px;height:18px;border-radius:2.5px;background:#d6245a;color:#fff;font-size:13px;font-weight:bold;line-height:15px;text-align:center">NEW</div>
<div class="t" style="top:803.9000000000001px;left:232px;font-size:18px;color:#231f20;font-weight:normal;-webkit-text-stroke:0.15px currentColor;transform:scaleX(0.9660);transform-origin:0 50%;--fw:191.30"><span>PBRS 부모양육태도검사</span></div>
<div style="position:absolute;left:468px;top:837.2px;width:51px;height:1.0px;background:#fff;"></div>
<div class="t" style="top:805.2px;left:393.5px;width:200px;text-align:center;font-size:17px;color:#fff;font-weight:normal;-webkit-text-stroke:0.55px #fff;transform:scaleX(0.9216);transform-origin:50% 50%;--fw:47.00"><span>전학년</span></div>
<div style="position:absolute;left:548px;top:835.7px;width:51px;height:1.0px;background:#fff;"></div>
<div class="t" style="top:804.2px;left:469.5px;width:200px;text-align:center;font-size:18px;color:#fff;font-weight:normal;-webkit-text-stroke:0.55px #fff;transform-origin:50% 50%;--fw:38.03"><span>50분</span></div>
<div style="position:absolute;left:630px;top:834.7px;width:51px;height:1.0px;background:#fff;"></div>
<div class="t" style="top:803.7px;left:554.5px;width:200px;text-align:center;font-size:18px;color:#fff;font-weight:normal;-webkit-text-stroke:0.55px #fff;transform-origin:50% 50%;--fw:45.05"><span>3,500</span></div>
<div style="position:absolute;left:729.5px;top:833.7px;width:51.0px;height:1.0px;background:#fff;"></div>
<div class="t" style="top:802.7px;left:653.0px;width:200px;text-align:center;font-size:18px;color:#fff;font-weight:normal;-webkit-text-stroke:0.55px #fff;transform-origin:50% 50%;--fw:30.05"><span>165</span></div>
<div style="position:absolute;left:818px;top:834px;width:143px;height:1px;background:#fff;"></div>
<div class="t" style="top:799.3px;left:824px;font-size:15px;color:#fff;font-weight:normal;-webkit-text-stroke:0.55px #fff;transform-origin:0 50%;--fw:119.17"><span>김재은 (이화여대)</span></div>
<div class="dl" style="top:904px"></div>
<div style="position:absolute;left:189px;top:880.65px;width:36px;height:18px;border-radius:2.5px;background:#5b7db1;color:#fff;font-size:13px;font-weight:bold;line-height:15px;text-align:center">개정</div>
<div class="t" style="top:869.6px;left:232px;font-size:18px;color:#d42d27;font-weight:normal;-webkit-text-stroke:0.15px currentColor;transform:scaleX(0.9844);transform-origin:0 50%;--fw:171.30"><span>MPI 다특성인성검사 <span style="font-family:'Liberation Serif',serif;font-size:18px;">I</span></span></div>
<div style="position:absolute;left:468px;top:902.9px;width:51px;height:1.0px;background:#fff;"></div>
<div class="t" style="top:870.9px;left:393.5px;width:200px;text-align:center;font-size:17px;color:#fff;font-weight:normal;-webkit-text-stroke:0.55px #fff;transform:scaleX(0.9216);transform-origin:50% 50%;--fw:47.00"><span>전학년</span></div>
<div style="position:absolute;left:548px;top:901.4px;width:51px;height:1.0px;background:#fff;"></div>
<div class="t" style="top:869.9px;left:469.5px;width:200px;text-align:center;font-size:18px;color:#fff;font-weight:normal;-webkit-text-stroke:0.55px #fff;transform-origin:50% 50%;--fw:38.03"><span>50분</span></div>
<div style="position:absolute;left:630px;top:900.4px;width:51px;height:1.0px;background:#fff;"></div>
<div class="t" style="top:869.4px;left:554.5px;width:200px;text-align:center;font-size:18px;color:#fff;font-weight:normal;-webkit-text-stroke:0.55px #fff;transform-origin:50% 50%;--fw:45.05"><span>3,500</span></div>
<div style="position:absolute;left:729.5px;top:899.4px;width:51.0px;height:1.0px;background:#fff;"></div>
<div class="t" style="top:868.4px;left:653.0px;width:200px;text-align:center;font-size:18px;color:#fff;font-weight:normal;-webkit-text-stroke:0.55px #fff;transform-origin:50% 50%;--fw:30.05"><span>180</span></div>
<div style="position:absolute;left:818px;top:900px;width:143px;height:1px;background:#fff;"></div>
<div class="t" style="top:864.9px;left:824px;font-size:15px;color:#fff;font-weight:normal;-webkit-text-stroke:0.55px #fff;transform-origin:0 50%;--fw:104.17"><span>박병관 (고려대)</span></div>
<div class="dl" style="top:968px"></div>
<div style="position:absolute;left:189px;top:944.95px;width:36px;height:18px;border-radius:2.5px;background:#5b7db1;color:#fff;font-size:13px;font-weight:bold;line-height:15px;text-align:center">개정</div>
<div class="t" style="top:933.9000000000001px;left:232px;font-size:18px;color:#d42d27;font-weight:normal;-webkit-text-stroke:0.15px currentColor;transform:scaleX(0.9880);transform-origin:0 50%;--fw:183.80"><span>16PF 다특성인성검사<span style="font-family:'Liberation Serif',serif;font-size:18px;-webkit-text-stroke:0.5px currentColor;">II</span></span></div>
<div style="position:absolute;left:468px;top:967.2px;width:51px;height:1.0px;background:#fff;"></div>
<div class="t" style="top:935.2px;left:393.5px;width:200px;text-align:center;font-size:17px;color:#fff;font-weight:normal;-webkit-text-stroke:0.55px #fff;transform:scaleX(0.9216);transform-origin:50% 50%;--fw:47.00"><span>전학년</span></div>
<div style="position:absolute;left:548px;top:965.7px;width:51px;height:1.0px;background:#fff;"></div>
<div class="t" style="top:934.2px;left:469.5px;width:200px;text-align:center;font-size:18px;color:#fff;font-weight:normal;-webkit-text-stroke:0.55px #fff;transform-origin:50% 50%;--fw:38.03"><span>50분</span></div>
<div style="position:absolute;left:630px;top:964.7px;width:51px;height:1.0px;background:#fff;"></div>
<div class="t" style="top:933.7px;left:554.5px;width:200px;text-align:center;font-size:18px;color:#fff;font-weight:normal;-webkit-text-stroke:0.55px #fff;transform-origin:50% 50%;--fw:45.05"><span>3,500</span></div>
<div style="position:absolute;left:729.5px;top:963.7px;width:51.0px;height:1.0px;background:#fff;"></div>
<div class="t" style="top:932.7px;left:653.0px;width:200px;text-align:center;font-size:18px;color:#fff;font-weight:normal;-webkit-text-stroke:0.55px #fff;transform-origin:50% 50%;--fw:30.05"><span>165</span></div>
<div style="position:absolute;left:818px;top:964px;width:143px;height:1px;background:#fff;"></div>
<div class="t" style="top:905.5px;left:824px;font-size:15px;color:#fff;font-weight:normal;-webkit-text-stroke:0.55px #fff;transform-origin:0 50%;--fw:104.17"><span>염태호 (경희대)</span></div>
<div class="t" style="top:927.7px;left:824px;font-size:15px;color:#fff;font-weight:normal;-webkit-text-stroke:0.55px #fff;transform-origin:0 50%;--fw:119.17"><span>김정규 (성신여대)</span></div>
<div class="dl" style="top:1032px"></div>
<div style="position:absolute;left:189px;top:1008.75px;width:36px;height:18px;border-radius:2.5px;background:#5b7db1;color:#fff;font-size:13px;font-weight:bold;line-height:15px;text-align:center">개정</div>
<div class="t" style="top:997.7px;left:232px;font-size:18px;color:#d42d27;font-weight:normal;-webkit-text-stroke:0.15px currentColor;transform:scaleX(0.9710);transform-origin:0 50%;--fw:150.50"><span>RCTI 성격유형검사</span></div>
<div style="position:absolute;left:468px;top:1031.0px;width:51px;height:1.0px;background:#fff;"></div>
<div class="t" style="top:999.0px;left:393.5px;width:200px;text-align:center;font-size:17px;color:#fff;font-weight:normal;-webkit-text-stroke:0.55px #fff;transform:scaleX(0.9216);transform-origin:50% 50%;--fw:47.00"><span>전학년</span></div>
<div style="position:absolute;left:548px;top:1029.5px;width:51px;height:1.0px;background:#fff;"></div>
<div class="t" style="top:998.0px;left:469.5px;width:200px;text-align:center;font-size:18px;color:#fff;font-weight:normal;-webkit-text-stroke:0.55px #fff;transform-origin:50% 50%;--fw:38.03"><span>50분</span></div>
<div style="position:absolute;left:630px;top:1028.5px;width:51px;height:1.0px;background:#fff;"></div>
<div class="t" style="top:997.5px;left:554.5px;width:200px;text-align:center;font-size:18px;color:#fff;font-weight:normal;-webkit-text-stroke:0.55px #fff;transform-origin:50% 50%;--fw:45.05"><span>3,500</span></div>
<div style="position:absolute;left:729.5px;top:1027.5px;width:51.0px;height:1.0px;background:#fff;"></div>
<div class="t" style="top:996.5px;left:653.0px;width:200px;text-align:center;font-size:18px;color:#fff;font-weight:normal;-webkit-text-stroke:0.55px #fff;transform-origin:50% 50%;--fw:30.05"><span>165</span></div>
<div style="position:absolute;left:818px;top:1029px;width:143px;height:1px;background:#fff;"></div>
<div class="t" style="top:997.3px;left:824px;font-size:15px;color:#fff;font-weight:normal;-webkit-text-stroke:0.55px #fff;transform-origin:0 50%;--fw:104.17"><span>염태호 (경희대)</span></div>
<div class="dl" style="top:1098px"></div>
<div style="position:absolute;left:189px;top:1074.45px;width:36px;height:18px;border-radius:2.5px;background:#5b7db1;color:#fff;font-size:13px;font-weight:bold;line-height:15px;text-align:center">개정</div>
<div class="t" style="top:1063.4px;left:232px;font-size:18px;color:#231f20;font-weight:normal;-webkit-text-stroke:0.15px currentColor;transform:scaleX(0.9776);transform-origin:0 50%;--fw:153.50"><span>KMIS 다중지능검사</span></div>
<div style="position:absolute;left:468px;top:1096.7px;width:51px;height:1.0px;background:#fff;"></div>
<div class="t" style="top:1064.7px;left:393.5px;width:200px;text-align:center;font-size:17px;color:#fff;font-weight:normal;-webkit-text-stroke:0.55px #fff;transform:scaleX(0.9216);transform-origin:50% 50%;--fw:47.00"><span>전학년</span></div>
<div style="position:absolute;left:548px;top:1095.2px;width:51px;height:1.0px;background:#fff;"></div>
<div class="t" style="top:1063.7px;left:469.5px;width:200px;text-align:center;font-size:18px;color:#fff;font-weight:normal;-webkit-text-stroke:0.55px #fff;transform-origin:50% 50%;--fw:38.03"><span>50분</span></div>
<div style="position:absolute;left:630px;top:1094.2px;width:51px;height:1.0px;background:#fff;"></div>
<div class="t" style="top:1063.2px;left:554.5px;width:200px;text-align:center;font-size:18px;color:#fff;font-weight:normal;-webkit-text-stroke:0.55px #fff;transform-origin:50% 50%;--fw:45.05"><span>5,000</span></div>
<div style="position:absolute;left:729.5px;top:1093.2px;width:51.0px;height:1.0px;background:#fff;"></div>
<div class="t" style="top:1062.2px;left:653.0px;width:200px;text-align:center;font-size:18px;color:#fff;font-weight:normal;-webkit-text-stroke:0.55px #fff;transform-origin:50% 50%;--fw:20.03"><span>75</span></div>
<div style="position:absolute;left:818px;top:1094px;width:143px;height:1px;background:#fff;"></div>
<div class="t" style="top:1062.0px;left:824px;font-size:15px;color:#fff;font-weight:normal;-webkit-text-stroke:0.55px #fff;transform-origin:0 50%;--fw:104.17"><span>임인재 (서울대)</span></div>
<div class="dl" style="top:1162px"></div>
<div style="position:absolute;left:189px;top:1123.25px;width:36px;height:18px;border-radius:2.5px;background:#5b7db1;color:#fff;font-size:13px;font-weight:bold;line-height:15px;text-align:center">개정</div>
<div class="t" style="top:1105.5px;left:235.5px;font-size:18px;color:#d42d27;font-weight:normal;-webkit-text-stroke:0.15px currentColor;transform:scaleX(0.9651);transform-origin:0 50%;--fw:155.40"><span>CIS 창의성종합검사</span></div>
<div class="t" style="top:1128.0px;left:235.5px;font-size:17px;color:#231f20;font-weight:normal;-webkit-text-stroke:0.15px currentColor;transform:scaleX(0.9113);transform-origin:0 50%;--fw:56.80"><span>(주관식)</span></div>
<div style="position:absolute;left:468px;top:1161.0px;width:51px;height:1.0px;background:#fff;"></div>
<div class="t" style="top:1129.0px;left:393.5px;width:200px;text-align:center;font-size:17px;color:#fff;font-weight:normal;-webkit-text-stroke:0.55px #fff;transform:scaleX(0.9216);transform-origin:50% 50%;--fw:47.00"><span>전학년</span></div>
<div style="position:absolute;left:548px;top:1159.5px;width:51px;height:1.0px;background:#fff;"></div>
<div class="t" style="top:1128.0px;left:469.5px;width:200px;text-align:center;font-size:18px;color:#fff;font-weight:normal;-webkit-text-stroke:0.55px #fff;transform-origin:50% 50%;--fw:38.03"><span>50분</span></div>
<div style="position:absolute;left:630px;top:1158.5px;width:51px;height:1.0px;background:#fff;"></div>
<div class="t" style="top:1127.5px;left:554.5px;width:200px;text-align:center;font-size:18px;color:#fff;font-weight:normal;-webkit-text-stroke:0.55px #fff;transform-origin:50% 50%;--fw:55.06"><span>10,000</span></div>
<div style="position:absolute;left:729.5px;top:1157.5px;width:51.0px;height:1.0px;background:#fff;"></div>
<div class="t" style="top:1126.5px;left:653.0px;width:200px;text-align:center;font-size:18px;color:#fff;font-weight:normal;-webkit-text-stroke:0.55px #fff;transform-origin:50% 50%;--fw:20.03"><span>50</span></div>
<div style="position:absolute;left:818px;top:1158px;width:143px;height:1px;background:#fff;"></div>
<div class="t" style="top:1127.1px;left:824px;font-size:15px;color:#fff;font-weight:normal;-webkit-text-stroke:0.55px #fff;transform-origin:0 50%;--fw:104.17"><span>임인재 (서울대)</span></div>
<div class="dl" style="top:1227px"></div>
<div style="position:absolute;left:189px;top:1204.05px;width:36px;height:18px;border-radius:2.5px;background:#5b7db1;color:#fff;font-size:13px;font-weight:bold;line-height:15px;text-align:center">개정</div>
<div class="t" style="top:1193.0px;left:232px;font-size:18px;color:#231f20;font-weight:normal;-webkit-text-stroke:0.15px currentColor;transform:scaleX(0.9687);transform-origin:0 50%;--fw:180.20"><span>SCS 자아개념진단검사</span></div>
<div style="position:absolute;left:468px;top:1226.3px;width:51px;height:1.0px;background:#fff;"></div>
<div class="t" style="top:1194.3px;left:393.5px;width:200px;text-align:center;font-size:17px;color:#fff;font-weight:normal;-webkit-text-stroke:0.55px #fff;transform:scaleX(0.9216);transform-origin:50% 50%;--fw:47.00"><span>전학년</span></div>
<div style="position:absolute;left:548px;top:1224.8px;width:51px;height:1.0px;background:#fff;"></div>
<div class="t" style="top:1193.3px;left:469.5px;width:200px;text-align:center;font-size:18px;color:#fff;font-weight:normal;-webkit-text-stroke:0.55px #fff;transform-origin:50% 50%;--fw:38.03"><span>50분</span></div>
<div style="position:absolute;left:630px;top:1223.8px;width:51px;height:1.0px;background:#fff;"></div>
<div class="t" style="top:1192.8px;left:554.5px;width:200px;text-align:center;font-size:18px;color:#fff;font-weight:normal;-webkit-text-stroke:0.55px #fff;transform-origin:50% 50%;--fw:45.05"><span>5,000</span></div>
<div style="position:absolute;left:729.5px;top:1222.8px;width:51.0px;height:1.0px;background:#fff;"></div>
<div class="t" style="top:1191.8px;left:653.0px;width:200px;text-align:center;font-size:18px;color:#fff;font-weight:normal;-webkit-text-stroke:0.55px #fff;transform-origin:50% 50%;--fw:20.03"><span>89</span></div>
<div style="position:absolute;left:818px;top:1224px;width:143px;height:1px;background:#fff;"></div>
<div class="t" style="top:1192.4px;left:824px;font-size:15px;color:#fff;font-weight:normal;-webkit-text-stroke:0.55px #fff;transform-origin:0 50%;--fw:119.17"><span>송인섭 (숙명여대)</span></div>
<div class="dl" style="top:1294px"></div>
<div style="position:absolute;left:189px;top:1270.75px;width:36px;height:18px;border-radius:2.5px;background:#5b7db1;color:#fff;font-size:13px;font-weight:bold;line-height:15px;text-align:center">개정</div>
<div class="t" style="top:1259.7px;left:232px;font-size:18px;color:#231f20;font-weight:normal;-webkit-text-stroke:0.15px currentColor;transform:scaleX(0.9710);transform-origin:0 50%;--fw:173.50"><span>IQT 다중지능진단검사</span></div>
<div style="position:absolute;left:468px;top:1293.0px;width:51px;height:1.0px;background:#fff;"></div>
<div class="t" style="top:1261.0px;left:393.5px;width:200px;text-align:center;font-size:17px;color:#fff;font-weight:normal;-webkit-text-stroke:0.55px #fff;transform:scaleX(0.9216);transform-origin:50% 50%;--fw:47.00"><span>전학년</span></div>
<div style="position:absolute;left:548px;top:1291.5px;width:51px;height:1.0px;background:#fff;"></div>
<div class="t" style="top:1260.0px;left:469.5px;width:200px;text-align:center;font-size:18px;color:#fff;font-weight:normal;-webkit-text-stroke:0.55px #fff;transform-origin:50% 50%;--fw:38.03"><span>50분</span></div>
<div style="position:absolute;left:630px;top:1290.5px;width:51px;height:1.0px;background:#fff;"></div>
<div class="t" style="top:1259.5px;left:554.5px;width:200px;text-align:center;font-size:18px;color:#fff;font-weight:normal;-webkit-text-stroke:0.55px #fff;transform-origin:50% 50%;--fw:45.05"><span>5,000</span></div>
<div style="position:absolute;left:729.5px;top:1289.5px;width:51.0px;height:1.0px;background:#fff;"></div>
<div class="t" style="top:1258.5px;left:653.0px;width:200px;text-align:center;font-size:18px;color:#fff;font-weight:normal;-webkit-text-stroke:0.55px #fff;transform-origin:50% 50%;--fw:20.03"><span>98</span></div>
<div style="position:absolute;left:818px;top:1290px;width:143px;height:1px;background:#fff;"></div>
<div class="t" style="top:1257.6px;left:824px;font-size:15px;color:#fff;font-weight:normal;-webkit-text-stroke:0.55px #fff;transform-origin:0 50%;--fw:119.17"><span>김재은 (이화여대)</span></div>
<div class="dl" style="top:1360px"></div>
<div style="position:absolute;left:189px;top:1321.75px;width:36px;height:18px;border-radius:2.5px;background:#5b7db1;color:#fff;font-size:13px;font-weight:bold;line-height:15px;text-align:center">개정</div>
<div class="t" style="top:1304.0px;left:232px;font-size:18px;color:#231f20;font-weight:normal;-webkit-text-stroke:0.15px currentColor;transform:scaleX(0.9687);transform-origin:0 50%;--fw:180.20"><span>SCS 자아개념진단검사</span></div>
<div class="t" style="top:1326.5px;left:232px;font-size:17px;color:#231f20;font-weight:normal;-webkit-text-stroke:0.15px currentColor;transform:scaleX(0.9177);transform-origin:0 50%;--fw:57.20"><span>(수기용)</span></div>
<div style="position:absolute;left:468px;top:1359.5px;width:51px;height:1.0px;background:#fff;"></div>
<div class="t" style="top:1327.5px;left:393.5px;width:200px;text-align:center;font-size:17px;color:#fff;font-weight:normal;-webkit-text-stroke:0.55px #fff;transform:scaleX(0.9216);transform-origin:50% 50%;--fw:47.00"><span>전학년</span></div>
<div style="position:absolute;left:548px;top:1358.0px;width:51px;height:1.0px;background:#fff;"></div>
<div class="t" style="top:1326.5px;left:469.5px;width:200px;text-align:center;font-size:18px;color:#fff;font-weight:normal;-webkit-text-stroke:0.55px #fff;transform-origin:50% 50%;--fw:38.03"><span>50분</span></div>
<div style="position:absolute;left:630px;top:1357.0px;width:51px;height:1.0px;background:#fff;"></div>
<div class="t" style="top:1326.0px;left:554.5px;width:200px;text-align:center;font-size:18px;color:#fff;font-weight:normal;-webkit-text-stroke:0.55px #fff;transform-origin:50% 50%;--fw:45.05"><span>5,000</span></div>
<div style="position:absolute;left:729.5px;top:1356.0px;width:51.0px;height:1.0px;background:#fff;"></div>
<div class="t" style="top:1325.0px;left:653.0px;width:200px;text-align:center;font-size:18px;color:#fff;font-weight:normal;-webkit-text-stroke:0.55px #fff;transform-origin:50% 50%;--fw:30.05"><span>144</span></div>
<div style="position:absolute;left:818px;top:1355px;width:143px;height:1px;background:#fff;"></div>
<div class="t" style="top:1322.0px;left:824px;font-size:15px;color:#fff;font-weight:normal;-webkit-text-stroke:0.55px #fff;transform-origin:0 50%;--fw:119.17"><span>송인섭 (숙명여대)</span></div>
<div class="dl" style="top:1417px"></div>
<div class="t" style="top:1362.9px;left:185.5px;font-size:18px;color:#231f20;font-weight:normal;-webkit-text-stroke:0.15px currentColor;transform:scaleX(0.9735);transform-origin:0 50%;--fw:150.90"><span>진로학습종합검사 <span style="font-family:'Liberation Serif',serif;font-size:18px;">I</span></span></div>
<div class="t" style="top:1385.4px;left:185.5px;font-size:14px;color:#4c6fb2;font-weight:normal;-webkit-text-stroke:0.15px currentColor;transform:scaleX(1.0049);transform-origin:0 50%;--fw:189.30"><span>(CAS진로적성 +AAT학업적성)</span></div>
<div style="position:absolute;left:468px;top:1416.4px;width:51px;height:1.0px;background:#fff;"></div>
<div class="t" style="top:1384.4px;left:393.5px;width:200px;text-align:center;font-size:17px;color:#fff;font-weight:normal;-webkit-text-stroke:0.55px #fff;transform:scaleX(0.9216);transform-origin:50% 50%;--fw:47.00"><span>전학년</span></div>
<div style="position:absolute;left:548px;top:1414.9px;width:51px;height:1.0px;background:#fff;"></div>
<div class="t" style="top:1383.4px;left:469.5px;width:200px;text-align:center;font-size:18px;color:#fff;font-weight:normal;-webkit-text-stroke:0.55px #fff;transform-origin:50% 50%;--fw:48.05"><span>100분</span></div>
<div style="position:absolute;left:630px;top:1413.9px;width:51px;height:1.0px;background:#fff;"></div>
<div class="t" style="top:1382.9px;left:554.5px;width:200px;text-align:center;font-size:18px;color:#fff;font-weight:normal;-webkit-text-stroke:0.55px #fff;transform-origin:50% 50%;--fw:45.05"><span>6,000</span></div>
<div style="position:absolute;left:714px;top:1413.4px;width:82px;height:1.0px;background:#fff;"></div>
<div class="t" style="top:1364.4px;left:652.5px;width:200px;text-align:center;font-size:16px;color:#fff;font-weight:normal;-webkit-text-stroke:0.55px #fff;transform-origin:50% 50%;--fw:58.70"><span>284문항</span></div>
<div class="t" style="top:1381.4px;left:653.5px;width:200px;text-align:center;font-size:14px;color:#fff;font-weight:normal;-webkit-text-stroke:0.3px #fff;transform-origin:50% 50%;--fw:66.67"><span>(165 / 119)</span></div>
<div style="position:absolute;left:824px;top:1415px;width:134px;height:1px;background:#fff;"></div>
<div class="t" style="top:1360.1px;left:824px;font-size:15px;color:#fff;font-weight:normal;-webkit-text-stroke:0.55px #fff;transform-origin:0 50%;--fw:119.17"><span>김재은 (이화여대)</span></div>
<div class="t" style="top:1382.6px;left:824px;font-size:15px;color:#fff;font-weight:normal;-webkit-text-stroke:0.55px #fff;transform-origin:0 50%;--fw:119.17"><span>김아영 (이화여대)</span></div>
<div class="dl" style="top:1482px"></div>
<div class="t" style="top:1427.9px;left:185.5px;font-size:18px;color:#231f20;font-weight:normal;-webkit-text-stroke:0.15px currentColor;transform:scaleX(0.9639);transform-origin:0 50%;--fw:155.20"><span>진로학습종합검사 <span style="font-family:'Liberation Serif',serif;font-size:18px;-webkit-text-stroke:0.5px currentColor;">II</span></span></div>
<div class="t" style="top:1450.4px;left:185.5px;font-size:14px;color:#4c6fb2;font-weight:normal;-webkit-text-stroke:0.15px currentColor;transform:scaleX(1.0000);transform-origin:0 50%;--fw:186.30"><span>(MCI진로탐색+LSDI학습전략)</span></div>
<div style="position:absolute;left:468px;top:1481.4px;width:51px;height:1.0px;background:#fff;"></div>
<div class="t" style="top:1449.4px;left:393.5px;width:200px;text-align:center;font-size:17px;color:#fff;font-weight:normal;-webkit-text-stroke:0.55px #fff;transform:scaleX(0.9216);transform-origin:50% 50%;--fw:47.00"><span>전학년</span></div>
<div style="position:absolute;left:548px;top:1479.9px;width:51px;height:1.0px;background:#fff;"></div>
<div class="t" style="top:1448.4px;left:469.5px;width:200px;text-align:center;font-size:18px;color:#fff;font-weight:normal;-webkit-text-stroke:0.55px #fff;transform-origin:50% 50%;--fw:48.05"><span>100분</span></div>
<div style="position:absolute;left:630px;top:1478.9px;width:51px;height:1.0px;background:#fff;"></div>
<div class="t" style="top:1447.9px;left:554.5px;width:200px;text-align:center;font-size:18px;color:#fff;font-weight:normal;-webkit-text-stroke:0.55px #fff;transform-origin:50% 50%;--fw:45.05"><span>6,000</span></div>
<div style="position:absolute;left:714px;top:1478.4px;width:82px;height:1.0px;background:#fff;"></div>
<div class="t" style="top:1429.4px;left:652.5px;width:200px;text-align:center;font-size:16px;color:#fff;font-weight:normal;-webkit-text-stroke:0.55px #fff;transform-origin:50% 50%;--fw:58.70"><span>423문항</span></div>
<div class="t" style="top:1446.4px;left:653.5px;width:200px;text-align:center;font-size:14px;color:#fff;font-weight:normal;-webkit-text-stroke:0.3px #fff;transform-origin:50% 50%;--fw:67.72"><span>(267 / 156)</span></div>
<div style="position:absolute;left:824px;top:1480px;width:134px;height:1px;background:#fff;"></div>
<div class="t" style="top:1423.4px;left:824px;font-size:15px;color:#fff;font-weight:normal;-webkit-text-stroke:0.55px #fff;transform-origin:0 50%;--fw:119.17"><span>김병숙 (경기대학)</span></div>
<div class="t" style="top:1445.9px;left:824px;font-size:15px;color:#fff;font-weight:normal;-webkit-text-stroke:0.55px #fff;transform-origin:0 50%;--fw:104.17"><span>박병관 (고려대)</span></div>
<div class="dl" style="top:1549px"></div>
<div class="t" style="top:1494.1px;left:185.5px;font-size:18px;color:#231f20;font-weight:normal;-webkit-text-stroke:0.15px currentColor;transform:scaleX(0.9365);transform-origin:0 50%;--fw:156.40"><span>진로학습종합검사 <span style="font-family:'Liberation Serif',serif;font-size:18px;-webkit-text-stroke:0.5px currentColor;">III</span></span></div>
<div class="t" style="top:1516.6px;left:185.5px;font-size:14px;color:#4c6fb2;font-weight:normal;-webkit-text-stroke:0.15px currentColor;transform:scaleX(0.9981);transform-origin:0 50%;--fw:232.00"><span>(CARAT진로적성탐색 +LAT학습능력)</span></div>
<div style="position:absolute;left:468px;top:1547.6px;width:51px;height:1.0px;background:#fff;"></div>
<div class="t" style="top:1515.6px;left:393.5px;width:200px;text-align:center;font-size:17px;color:#fff;font-weight:normal;-webkit-text-stroke:0.55px #fff;transform:scaleX(0.9216);transform-origin:50% 50%;--fw:47.00"><span>전학년</span></div>
<div style="position:absolute;left:548px;top:1546.1px;width:51px;height:1.0px;background:#fff;"></div>
<div class="t" style="top:1514.6px;left:469.5px;width:200px;text-align:center;font-size:18px;color:#fff;font-weight:normal;-webkit-text-stroke:0.55px #fff;transform-origin:50% 50%;--fw:48.05"><span>100분</span></div>
<div style="position:absolute;left:630px;top:1545.1px;width:51px;height:1.0px;background:#fff;"></div>
<div class="t" style="top:1514.1px;left:554.5px;width:200px;text-align:center;font-size:18px;color:#fff;font-weight:normal;-webkit-text-stroke:0.55px #fff;transform-origin:50% 50%;--fw:45.05"><span>6,000</span></div>
<div style="position:absolute;left:714px;top:1544.6px;width:82px;height:1.0px;background:#fff;"></div>
<div class="t" style="top:1495.6px;left:652.5px;width:200px;text-align:center;font-size:16px;color:#fff;font-weight:normal;-webkit-text-stroke:0.55px #fff;transform-origin:50% 50%;--fw:58.70"><span>300문항</span></div>
<div class="t" style="top:1512.6px;left:653.5px;width:200px;text-align:center;font-size:14px;color:#fff;font-weight:normal;-webkit-text-stroke:0.3px #fff;transform-origin:50% 50%;--fw:67.72"><span>(127 / 173)</span></div>
<div style="position:absolute;left:824px;top:1547px;width:134px;height:1px;background:#fff;"></div>
<div class="t" style="top:1487.7px;left:824px;font-size:15px;color:#fff;font-weight:normal;-webkit-text-stroke:0.55px #fff;transform-origin:0 50%;--fw:119.17"><span>김아영 (이화여대)</span></div>
<div class="t" style="top:1510.6px;left:824px;font-size:15px;color:#fff;font-weight:normal;-webkit-text-stroke:0.55px #fff;transform-origin:0 50%;--fw:104.17"><span>박병관 (고려대)</span></div>
<div class="dl" style="top:1613px"></div>
<div class="t" style="top:1558.5px;left:185.5px;font-size:18px;color:#231f20;font-weight:normal;-webkit-text-stroke:0.15px currentColor;transform:scaleX(0.9368);transform-origin:0 50%;--fw:157.40"><span>진로학습종합검사 <span style="font-family:'Liberation Serif',serif;font-size:18px;-webkit-text-stroke:0.5px currentColor;">IV</span></span></div>
<div class="t" style="top:1581.0px;left:185.5px;font-size:14px;color:#4c6fb2;font-weight:normal;-webkit-text-stroke:0.15px currentColor;transform:scaleX(1.0051);transform-origin:0 50%;--fw:197.40"><span>(CAS진로적성 +KMIS다중지능)</span></div>
<div style="position:absolute;left:468px;top:1612.0px;width:51px;height:1.0px;background:#fff;"></div>
<div class="t" style="top:1580.0px;left:393.5px;width:200px;text-align:center;font-size:17px;color:#fff;font-weight:normal;-webkit-text-stroke:0.55px #fff;transform:scaleX(0.9216);transform-origin:50% 50%;--fw:47.00"><span>전학년</span></div>
<div style="position:absolute;left:548px;top:1610.5px;width:51px;height:1.0px;background:#fff;"></div>
<div class="t" style="top:1579.0px;left:469.5px;width:200px;text-align:center;font-size:18px;color:#fff;font-weight:normal;-webkit-text-stroke:0.55px #fff;transform-origin:50% 50%;--fw:48.05"><span>100분</span></div>
<div style="position:absolute;left:630px;top:1609.5px;width:51px;height:1.0px;background:#fff;"></div>
<div class="t" style="top:1578.5px;left:554.5px;width:200px;text-align:center;font-size:18px;color:#fff;font-weight:normal;-webkit-text-stroke:0.55px #fff;transform-origin:50% 50%;--fw:45.05"><span>6,000</span></div>
<div style="position:absolute;left:714px;top:1609.0px;width:82px;height:1.0px;background:#fff;"></div>
<div class="t" style="top:1560.0px;left:652.5px;width:200px;text-align:center;font-size:16px;color:#fff;font-weight:normal;-webkit-text-stroke:0.55px #fff;transform-origin:50% 50%;--fw:58.70"><span>240문항</span></div>
<div class="t" style="top:1577.0px;left:653.5px;width:200px;text-align:center;font-size:14px;color:#fff;font-weight:normal;-webkit-text-stroke:0.3px #fff;transform-origin:50% 50%;--fw:59.94"><span>(165 / 75)</span></div>
<div style="position:absolute;left:824px;top:1612px;width:134px;height:1px;background:#fff;"></div>
<div class="t" style="top:1552.1px;left:824px;font-size:15px;color:#fff;font-weight:normal;-webkit-text-stroke:0.55px #fff;transform-origin:0 50%;--fw:119.17"><span>김재은 (이화여대)</span></div>
<div class="t" style="top:1574.6px;left:824px;font-size:15px;color:#fff;font-weight:normal;-webkit-text-stroke:0.55px #fff;transform-origin:0 50%;--fw:104.17"><span>임인재 (서울대)</span></div>
<div class="dl" style="top:1676px"></div>
<div class="t" style="top:1621.9px;left:185.5px;font-size:18px;color:#231f20;font-weight:normal;-webkit-text-stroke:0.15px currentColor;transform:scaleX(0.9812);transform-origin:0 50%;--fw:152.10"><span>진로인성종합검사 <span style="font-family:'Liberation Serif',serif;font-size:18px;">I</span></span></div>
<div class="t" style="top:1644.4px;left:185.5px;font-size:14px;color:#4c6fb2;font-weight:normal;-webkit-text-stroke:0.15px currentColor;transform:scaleX(1.0096);transform-origin:0 50%;--fw:219.50"><span>(CAS진로적성 +16PF다특성인성II)</span></div>
<div style="position:absolute;left:468px;top:1675.4px;width:51px;height:1.0px;background:#fff;"></div>
<div class="t" style="top:1643.4px;left:393.5px;width:200px;text-align:center;font-size:17px;color:#fff;font-weight:normal;-webkit-text-stroke:0.55px #fff;transform:scaleX(0.9216);transform-origin:50% 50%;--fw:47.00"><span>전학년</span></div>
<div style="position:absolute;left:548px;top:1673.9px;width:51px;height:1.0px;background:#fff;"></div>
<div class="t" style="top:1642.4px;left:469.5px;width:200px;text-align:center;font-size:18px;color:#fff;font-weight:normal;-webkit-text-stroke:0.55px #fff;transform-origin:50% 50%;--fw:48.05"><span>100분</span></div>
<div style="position:absolute;left:630px;top:1672.9px;width:51px;height:1.0px;background:#fff;"></div>
<div class="t" style="top:1641.9px;left:554.5px;width:200px;text-align:center;font-size:18px;color:#fff;font-weight:normal;-webkit-text-stroke:0.55px #fff;transform-origin:50% 50%;--fw:45.05"><span>6,000</span></div>
<div style="position:absolute;left:714px;top:1672.4px;width:82px;height:1.0px;background:#fff;"></div>
<div class="t" style="top:1623.4px;left:652.5px;width:200px;text-align:center;font-size:16px;color:#fff;font-weight:normal;-webkit-text-stroke:0.55px #fff;transform-origin:50% 50%;--fw:58.70"><span>330문항</span></div>
<div class="t" style="top:1640.4px;left:653.5px;width:200px;text-align:center;font-size:14px;color:#fff;font-weight:normal;-webkit-text-stroke:0.3px #fff;transform-origin:50% 50%;--fw:67.72"><span>(165 / 165)</span></div>
<div style="position:absolute;left:824px;top:1674px;width:134px;height:1px;background:#fff;"></div>
<div class="t" style="top:1604.1px;left:822px;font-size:15px;color:#fff;font-weight:normal;-webkit-text-stroke:0.55px #fff;transform-origin:0 50%;--fw:119.17"><span>김재은 (이화여대)</span></div>
<div class="t" style="top:1623.8px;left:822px;font-size:15px;color:#fff;font-weight:normal;-webkit-text-stroke:0.55px #fff;transform-origin:0 50%;--fw:102.52"><span>염태호 / 김정규</span></div>
<div class="t" style="top:1642.2px;left:822px;font-size:15px;color:#fff;font-weight:normal;-webkit-text-stroke:0.55px #fff;transform:scaleX(1.0000);transform-origin:0 50%;--fw:142.50"><span>(경기대학 / 성신여대)</span></div>
<div class="dl" style="top:1742px"></div>
<div class="t" style="top:1687.7px;left:185.5px;font-size:18px;color:#231f20;font-weight:normal;-webkit-text-stroke:0.15px currentColor;transform:scaleX(0.9639);transform-origin:0 50%;--fw:155.20"><span>진로인성종합검사 <span style="font-family:'Liberation Serif',serif;font-size:18px;-webkit-text-stroke:0.5px currentColor;">II</span></span></div>
<div class="t" style="top:1710.2px;left:185.5px;font-size:14px;color:#4c6fb2;font-weight:normal;-webkit-text-stroke:0.15px currentColor;transform:scaleX(1.0062);transform-origin:0 50%;--fw:203.10"><span>(MCI 진로탐색 +MPI다특성인성)</span></div>
<div style="position:absolute;left:468px;top:1741.2px;width:51px;height:1.0px;background:#fff;"></div>
<div class="t" style="top:1709.2px;left:393.5px;width:200px;text-align:center;font-size:17px;color:#fff;font-weight:normal;-webkit-text-stroke:0.55px #fff;transform:scaleX(0.9216);transform-origin:50% 50%;--fw:47.00"><span>전학년</span></div>
<div style="position:absolute;left:548px;top:1739.7px;width:51px;height:1.0px;background:#fff;"></div>
<div class="t" style="top:1708.2px;left:469.5px;width:200px;text-align:center;font-size:18px;color:#fff;font-weight:normal;-webkit-text-stroke:0.55px #fff;transform-origin:50% 50%;--fw:48.05"><span>100분</span></div>
<div style="position:absolute;left:630px;top:1738.7px;width:51px;height:1.0px;background:#fff;"></div>
<div class="t" style="top:1707.7px;left:554.5px;width:200px;text-align:center;font-size:18px;color:#fff;font-weight:normal;-webkit-text-stroke:0.55px #fff;transform-origin:50% 50%;--fw:45.05"><span>6,000</span></div>
<div style="position:absolute;left:714px;top:1738.2px;width:82px;height:1.0px;background:#fff;"></div>
<div class="t" style="top:1689.2px;left:652.5px;width:200px;text-align:center;font-size:16px;color:#fff;font-weight:normal;-webkit-text-stroke:0.55px #fff;transform-origin:50% 50%;--fw:58.70"><span>413문항</span></div>
<div class="t" style="top:1706.2px;left:653.5px;width:200px;text-align:center;font-size:14px;color:#fff;font-weight:normal;-webkit-text-stroke:0.3px #fff;transform-origin:50% 50%;--fw:67.72"><span>(165 / 165)</span></div>
<div style="position:absolute;left:824px;top:1740px;width:134px;height:1px;background:#fff;"></div>
<div class="t" style="top:1668.3px;left:822px;font-size:15px;color:#fff;font-weight:normal;-webkit-text-stroke:0.55px #fff;transform-origin:0 50%;--fw:119.17"><span>김병숙 (경기대학)</span></div>
<div class="t" style="top:1687.2px;left:822px;font-size:15px;color:#fff;font-weight:normal;-webkit-text-stroke:0.55px #fff;transform-origin:0 50%;--fw:102.52"><span>염태호 / 김정규</span></div>
<div class="t" style="top:1707.8px;left:822px;font-size:15px;color:#fff;font-weight:normal;-webkit-text-stroke:0.55px #fff;transform:scaleX(1.0000);transform-origin:0 50%;--fw:142.50"><span>(경기대학 / 성신여대)</span></div>
<div class="dl" style="top:1807px"></div>
<div class="t" style="top:1752.9px;left:185.5px;font-size:18px;color:#231f20;font-weight:normal;-webkit-text-stroke:0.15px currentColor;transform:scaleX(0.9753);transform-origin:0 50%;--fw:186.30"><span>진로학습인성종합검사 <span style="font-family:'Liberation Serif',serif;font-size:18px;">I</span></span></div>
<div class="t" style="top:1775.4px;left:185.5px;font-size:14px;color:#4c6fb2;font-weight:normal;-webkit-text-stroke:0.15px currentColor;transform:scaleX(1.0009);transform-origin:0 50%;--fw:255.10"><span>(MCI진로탐색+LAT학습능력+MPI다특성)</span></div>
<div style="position:absolute;left:468px;top:1806.4px;width:51px;height:1.0px;background:#fff;"></div>
<div class="t" style="top:1774.4px;left:393.5px;width:200px;text-align:center;font-size:17px;color:#fff;font-weight:normal;-webkit-text-stroke:0.55px #fff;transform:scaleX(0.9216);transform-origin:50% 50%;--fw:47.00"><span>전학년</span></div>
<div style="position:absolute;left:548px;top:1804.9px;width:51px;height:1.0px;background:#fff;"></div>
<div class="t" style="top:1773.4px;left:469.5px;width:200px;text-align:center;font-size:18px;color:#fff;font-weight:normal;-webkit-text-stroke:0.55px #fff;transform-origin:50% 50%;--fw:48.05"><span>150분</span></div>
<div style="position:absolute;left:630px;top:1803.9px;width:51px;height:1.0px;background:#fff;"></div>
<div class="t" style="top:1772.9px;left:554.5px;width:200px;text-align:center;font-size:18px;color:#fff;font-weight:normal;-webkit-text-stroke:0.55px #fff;transform-origin:50% 50%;--fw:45.05"><span>9,000</span></div>
<div style="position:absolute;left:714px;top:1803.4px;width:82px;height:1.0px;background:#fff;"></div>
<div class="t" style="top:1754.4px;left:652.5px;width:200px;text-align:center;font-size:16px;color:#fff;font-weight:normal;-webkit-text-stroke:0.55px #fff;transform-origin:50% 50%;--fw:58.70"><span>586문항</span></div>
<div class="t" style="top:1771.4px;left:653.5px;width:200px;text-align:center;font-size:13.5px;color:#fff;font-weight:normal;letter-spacing:-0.2px;-webkit-text-stroke:0.3px #fff;transform-origin:50% 50%;--fw:95.67"><span>(267 / 173 / 165)</span></div>
<div style="position:absolute;left:824px;top:1805px;width:134px;height:1px;background:#fff;"></div>
<div class="t" style="top:1735.5px;left:822px;font-size:14.5px;color:#fff;font-weight:normal;-webkit-text-stroke:0.55px #fff;transform:scaleX(0.8695);transform-origin:0 50%;--fw:136.30"><span>김병숙 (경기대학), 박병</span></div>
<div class="t" style="top:1753.8px;left:822px;font-size:14.5px;color:#fff;font-weight:normal;-webkit-text-stroke:0.55px #fff;transform:scaleX(0.8645);transform-origin:0 50%;--fw:139.00"><span>관(고려대) , 염태호,김정</span></div>
<div class="t" style="top:1771.7px;left:822px;font-size:14.5px;color:#fff;font-weight:normal;-webkit-text-stroke:0.55px #fff;transform:scaleX(0.8925);transform-origin:0 50%;--fw:132.70"><span>규(경희대학/성신여대)</span></div>
<div class="dl" style="top:1875px"></div>
<div class="t" style="top:1820.4px;left:185.5px;font-size:18px;color:#231f20;font-weight:normal;-webkit-text-stroke:0.15px currentColor;transform:scaleX(0.9568);transform-origin:0 50%;--fw:188.50"><span>진로학습인성종합검사 <span style="font-family:'Liberation Serif',serif;font-size:18px;-webkit-text-stroke:0.5px currentColor;">II</span></span></div>
<div class="t" style="top:1842.9px;left:185.5px;font-size:14px;color:#4c6fb2;font-weight:normal;-webkit-text-stroke:0.15px currentColor;transform:scaleX(1.0061);transform-origin:0 50%;--fw:227.50"><span>(CAS진로적성+AAT학업적성+16PF)</span></div>
<div style="position:absolute;left:468px;top:1873.9px;width:51px;height:1.0px;background:#fff;"></div>
<div class="t" style="top:1841.9px;left:393.5px;width:200px;text-align:center;font-size:17px;color:#fff;font-weight:normal;-webkit-text-stroke:0.55px #fff;transform:scaleX(0.9216);transform-origin:50% 50%;--fw:47.00"><span>전학년</span></div>
<div style="position:absolute;left:548px;top:1872.4px;width:51px;height:1.0px;background:#fff;"></div>
<div class="t" style="top:1840.9px;left:469.5px;width:200px;text-align:center;font-size:18px;color:#fff;font-weight:normal;-webkit-text-stroke:0.55px #fff;transform-origin:50% 50%;--fw:48.05"><span>150분</span></div>
<div style="position:absolute;left:630px;top:1871.4px;width:51px;height:1.0px;background:#fff;"></div>
<div class="t" style="top:1840.4px;left:554.5px;width:200px;text-align:center;font-size:18px;color:#fff;font-weight:normal;-webkit-text-stroke:0.55px #fff;transform-origin:50% 50%;--fw:45.05"><span>9,000</span></div>
<div style="position:absolute;left:714px;top:1870.9px;width:82px;height:1.0px;background:#fff;"></div>
<div class="t" style="top:1821.9px;left:652.5px;width:200px;text-align:center;font-size:16px;color:#fff;font-weight:normal;-webkit-text-stroke:0.55px #fff;transform-origin:50% 50%;--fw:32.00"><span>문항</span></div>
<div class="t" style="top:1838.9px;left:653.5px;width:200px;text-align:center;font-size:13.5px;color:#fff;font-weight:normal;letter-spacing:-0.2px;-webkit-text-stroke:0.3px #fff;transform-origin:50% 50%;--fw:94.67"><span>(165 / 119 / 165)</span></div>
<div style="position:absolute;left:824px;top:1874px;width:134px;height:1px;background:#fff;"></div>
<div class="t" style="top:1802.3px;left:822px;font-size:14.5px;color:#fff;font-weight:normal;-webkit-text-stroke:0.55px #fff;transform:scaleX(0.8753);transform-origin:0 50%;--fw:137.20"><span>김병숙 (경기대학), 김아</span></div>
<div class="t" style="top:1820.4px;left:822px;font-size:14.5px;color:#fff;font-weight:normal;-webkit-text-stroke:0.55px #fff;transform:scaleX(0.8846);transform-origin:0 50%;--fw:135.10"><span>영(이화여대) 염태호/김</span></div>
<div class="t" style="top:1839.0px;left:822px;font-size:14.5px;color:#fff;font-weight:normal;-webkit-text-stroke:0.55px #fff;transform:scaleX(0.8828);transform-origin:0 50%;--fw:144.50"><span>정규(경희대학/성신여대)</span></div>
<div class="dl" style="top:1939px"></div>
<div class="t" style="top:1884.1px;left:185.5px;font-size:18px;color:#231f20;font-weight:normal;-webkit-text-stroke:0.15px currentColor;transform:scaleX(0.9632);transform-origin:0 50%;--fw:190.70"><span>진로학습인성종합검사<span style="font-family:'Liberation Serif',serif;font-size:18px;-webkit-text-stroke:0.5px currentColor;">III</span></span></div>
<div class="t" style="top:1906.6px;left:185.5px;font-size:14px;color:#4c6fb2;font-weight:normal;-webkit-text-stroke:0.15px currentColor;transform:scaleX(0.8732);transform-origin:0 50%;--fw:237.30"><span>(CARAT진로적성탐색+AAT학업적성+16PF)</span></div>
<div style="position:absolute;left:468px;top:1937.6px;width:51px;height:1.0px;background:#fff;"></div>
<div class="t" style="top:1905.6px;left:393.5px;width:200px;text-align:center;font-size:17px;color:#fff;font-weight:normal;-webkit-text-stroke:0.55px #fff;transform:scaleX(0.9216);transform-origin:50% 50%;--fw:47.00"><span>전학년</span></div>
<div style="position:absolute;left:548px;top:1936.1px;width:51px;height:1.0px;background:#fff;"></div>
<div class="t" style="top:1904.6px;left:469.5px;width:200px;text-align:center;font-size:18px;color:#fff;font-weight:normal;-webkit-text-stroke:0.55px #fff;transform-origin:50% 50%;--fw:48.05"><span>150분</span></div>
<div style="position:absolute;left:630px;top:1935.1px;width:51px;height:1.0px;background:#fff;"></div>
<div class="t" style="top:1904.1px;left:554.5px;width:200px;text-align:center;font-size:18px;color:#fff;font-weight:normal;-webkit-text-stroke:0.55px #fff;transform-origin:50% 50%;--fw:45.05"><span>9,000</span></div>
<div style="position:absolute;left:714px;top:1934.6px;width:82px;height:1.0px;background:#fff;"></div>
<div class="t" style="top:1885.6px;left:652.5px;width:200px;text-align:center;font-size:16px;color:#fff;font-weight:normal;-webkit-text-stroke:0.55px #fff;transform-origin:50% 50%;--fw:32.00"><span>문항</span></div>
<div class="t" style="top:1902.6px;left:653.5px;width:200px;text-align:center;font-size:13.5px;color:#fff;font-weight:normal;letter-spacing:-0.2px;-webkit-text-stroke:0.3px #fff;transform-origin:50% 50%;--fw:94.67"><span>(127 / 119 / 165)</span></div>
<div style="position:absolute;left:824px;top:1936px;width:134px;height:1px;background:#fff;"></div>
<div class="t" style="top:1866.7px;left:822px;font-size:15px;color:#fff;font-weight:normal;-webkit-text-stroke:0.55px #fff;transform:scaleX(0.9819);transform-origin:0 50%;--fw:121.10"><span>김아영 (이화여대),</span></div>
<div class="t" style="top:1886.0px;left:822px;font-size:15px;color:#fff;font-weight:normal;-webkit-text-stroke:0.55px #fff;transform:scaleX(0.9992);transform-origin:0 50%;--fw:94.10"><span>염태호/김정규</span></div>
<div class="t" style="top:1904.4px;left:822px;font-size:15px;color:#fff;font-weight:normal;-webkit-text-stroke:0.55px #fff;transform:scaleX(0.9957);transform-origin:0 50%;--fw:133.60"><span>(경희대학/성신여대)</span></div>
<div class="dl" style="top:2002px"></div>
<div class="t" style="top:1947.6px;left:185.5px;font-size:18px;color:#231f20;font-weight:normal;-webkit-text-stroke:0.15px currentColor;transform:scaleX(0.9873);transform-origin:0 50%;--fw:117.50"><span>학습종합검사 <span style="font-family:'Liberation Serif',serif;font-size:18px;">I</span></span></div>
<div class="t" style="top:1970.1px;left:185.5px;font-size:14px;color:#4c6fb2;font-weight:normal;-webkit-text-stroke:0.15px currentColor;transform:scaleX(1.0009);transform-origin:0 50%;--fw:183.10"><span>(LAT학습능력+CAS진로적성)</span></div>
<div style="position:absolute;left:468px;top:2001.1px;width:51px;height:1.0px;background:#fff;"></div>
<div class="t" style="top:1969.1px;left:393.5px;width:200px;text-align:center;font-size:17px;color:#fff;font-weight:normal;-webkit-text-stroke:0.55px #fff;transform:scaleX(0.9216);transform-origin:50% 50%;--fw:47.00"><span>전학년</span></div>
<div style="position:absolute;left:548px;top:1999.6px;width:51px;height:1.0px;background:#fff;"></div>
<div class="t" style="top:1968.1px;left:469.5px;width:200px;text-align:center;font-size:18px;color:#fff;font-weight:normal;-webkit-text-stroke:0.55px #fff;transform-origin:50% 50%;--fw:48.05"><span>100분</span></div>
<div style="position:absolute;left:630px;top:1998.6px;width:51px;height:1.0px;background:#fff;"></div>
<div class="t" style="top:1967.6px;left:554.5px;width:200px;text-align:center;font-size:18px;color:#fff;font-weight:normal;-webkit-text-stroke:0.55px #fff;transform-origin:50% 50%;--fw:45.05"><span>7,000</span></div>
<div style="position:absolute;left:714px;top:1998.1px;width:82px;height:1.0px;background:#fff;"></div>
<div class="t" style="top:1949.1px;left:652.5px;width:200px;text-align:center;font-size:16px;color:#fff;font-weight:normal;-webkit-text-stroke:0.55px #fff;transform-origin:50% 50%;--fw:58.70"><span>338문항</span></div>
<div class="t" style="top:1966.1px;left:653.5px;width:200px;text-align:center;font-size:14px;color:#fff;font-weight:normal;-webkit-text-stroke:0.3px #fff;transform-origin:50% 50%;--fw:71.61"><span>( 173 / 165)</span></div>
<div style="position:absolute;left:824px;top:2000px;width:134px;height:1px;background:#fff;"></div>
<div class="t" style="top:1942.4px;left:824px;font-size:15px;color:#fff;font-weight:normal;-webkit-text-stroke:0.55px #fff;transform-origin:0 50%;--fw:119.17"><span>김재은 (이화여대)</span></div>
<div class="t" style="top:1965.0px;left:824px;font-size:15px;color:#fff;font-weight:normal;-webkit-text-stroke:0.55px #fff;transform-origin:0 50%;--fw:104.17"><span>박병관 (고려대)</span></div>
<div class="dl" style="top:2066px"></div>
<div class="t" style="top:2011.1px;left:185.5px;font-size:18px;color:#231f20;font-weight:normal;-webkit-text-stroke:0.15px currentColor;transform:scaleX(0.9559);transform-origin:0 50%;--fw:119.50"><span>학습종합검사 <span style="font-family:'Liberation Serif',serif;font-size:18px;-webkit-text-stroke:0.5px currentColor;">II</span></span></div>
<div class="t" style="top:2033.6px;left:185.5px;font-size:14px;color:#4c6fb2;font-weight:normal;-webkit-text-stroke:0.15px currentColor;transform:scaleX(1.0009);transform-origin:0 50%;--fw:234.20"><span>(AAT학업적성+ CARAT진로적성탐색)</span></div>
<div style="position:absolute;left:468px;top:2064.6px;width:51px;height:1.0px;background:#fff;"></div>
<div class="t" style="top:2032.6px;left:393.5px;width:200px;text-align:center;font-size:17px;color:#fff;font-weight:normal;-webkit-text-stroke:0.55px #fff;transform:scaleX(0.9216);transform-origin:50% 50%;--fw:47.00"><span>전학년</span></div>
<div style="position:absolute;left:548px;top:2063.1px;width:51px;height:1.0px;background:#fff;"></div>
<div class="t" style="top:2031.6px;left:469.5px;width:200px;text-align:center;font-size:18px;color:#fff;font-weight:normal;-webkit-text-stroke:0.55px #fff;transform-origin:50% 50%;--fw:48.05"><span>100분</span></div>
<div style="position:absolute;left:630px;top:2062.1px;width:51px;height:1.0px;background:#fff;"></div>
<div class="t" style="top:2031.1px;left:554.5px;width:200px;text-align:center;font-size:18px;color:#fff;font-weight:normal;-webkit-text-stroke:0.55px #fff;transform-origin:50% 50%;--fw:45.05"><span>7,000</span></div>
<div style="position:absolute;left:714px;top:2061.6px;width:82px;height:1.0px;background:#fff;"></div>
<div class="t" style="top:2012.6px;left:652.5px;width:200px;text-align:center;font-size:16px;color:#fff;font-weight:normal;-webkit-text-stroke:0.55px #fff;transform-origin:50% 50%;--fw:58.70"><span>246문항</span></div>
<div class="t" style="top:2029.6px;left:653.5px;width:200px;text-align:center;font-size:14px;color:#fff;font-weight:normal;-webkit-text-stroke:0.3px #fff;transform-origin:50% 50%;--fw:66.67"><span>(119 / 127)</span></div>
<div style="position:absolute;left:824px;top:2064px;width:134px;height:1px;background:#fff;"></div>
<div class="t" style="top:2025.2px;left:824px;font-size:15px;color:#fff;font-weight:normal;-webkit-text-stroke:0.55px #fff;transform-origin:0 50%;--fw:119.17"><span>김아영 (이화여대)</span></div>
<div class="dl" style="top:2132px"></div>
<div class="t" style="top:2077.7px;left:185.5px;font-size:18px;color:#231f20;font-weight:normal;-webkit-text-stroke:0.15px currentColor;transform:scaleX(0.9873);transform-origin:0 50%;--fw:117.50"><span>인성종합검사 <span style="font-family:'Liberation Serif',serif;font-size:18px;">I</span></span></div>
<div class="t" style="top:2100.2px;left:185.5px;font-size:14px;color:#4c6fb2;font-weight:normal;-webkit-text-stroke:0.15px currentColor;transform:scaleX(0.9689);transform-origin:0 50%;--fw:250.60"><span>(PBRS부모양육태도 + 16PF다특성인성II)</span></div>
<div style="position:absolute;left:468px;top:2131.2px;width:51px;height:1.0px;background:#fff;"></div>
<div class="t" style="top:2099.2px;left:393.5px;width:200px;text-align:center;font-size:17px;color:#fff;font-weight:normal;-webkit-text-stroke:0.55px #fff;transform:scaleX(0.9216);transform-origin:50% 50%;--fw:47.00"><span>전학년</span></div>
<div style="position:absolute;left:548px;top:2129.7px;width:51px;height:1.0px;background:#fff;"></div>
<div class="t" style="top:2098.2px;left:469.5px;width:200px;text-align:center;font-size:18px;color:#fff;font-weight:normal;-webkit-text-stroke:0.55px #fff;transform-origin:50% 50%;--fw:48.05"><span>100분</span></div>
<div style="position:absolute;left:630px;top:2128.7px;width:51px;height:1.0px;background:#fff;"></div>
<div class="t" style="top:2097.7px;left:554.5px;width:200px;text-align:center;font-size:18px;color:#fff;font-weight:normal;-webkit-text-stroke:0.55px #fff;transform-origin:50% 50%;--fw:45.05"><span>6,000</span></div>
<div style="position:absolute;left:714px;top:2128.2px;width:82px;height:1.0px;background:#fff;"></div>
<div class="t" style="top:2079.2px;left:652.5px;width:200px;text-align:center;font-size:16px;color:#fff;font-weight:normal;-webkit-text-stroke:0.55px #fff;transform-origin:50% 50%;--fw:58.70"><span>330문항</span></div>
<div class="t" style="top:2096.2px;left:653.5px;width:200px;text-align:center;font-size:14px;color:#fff;font-weight:normal;-webkit-text-stroke:0.3px #fff;transform-origin:50% 50%;--fw:67.72"><span>(165 / 165)</span></div>
<div style="position:absolute;left:824px;top:2131px;width:134px;height:1px;background:#fff;"></div>
<div class="t" style="top:2057.9px;left:822px;font-size:15px;color:#fff;font-weight:normal;-webkit-text-stroke:0.55px #fff;transform-origin:0 50%;--fw:119.17"><span>김재은 (이화여대)</span></div>
<div class="t" style="top:2076.9px;left:822px;font-size:15px;color:#fff;font-weight:normal;-webkit-text-stroke:0.55px #fff;transform-origin:0 50%;--fw:102.52"><span>염태호 / 김정규</span></div>
<div class="t" style="top:2096.2px;left:822px;font-size:15px;color:#fff;font-weight:normal;-webkit-text-stroke:0.55px #fff;transform:scaleX(1.0000);transform-origin:0 50%;--fw:142.50"><span>(경기대학 / 성신여대)</span></div>
<div class="dl" style="top:2196px"></div>
<div class="t" style="top:2141.6px;left:185.5px;font-size:18px;color:#231f20;font-weight:normal;-webkit-text-stroke:0.15px currentColor;transform:scaleX(0.9559);transform-origin:0 50%;--fw:119.50"><span>인성종합검사 <span style="font-family:'Liberation Serif',serif;font-size:18px;-webkit-text-stroke:0.5px currentColor;">II</span></span></div>
<div class="t" style="top:2164.1px;left:185.5px;font-size:14px;color:#4c6fb2;font-weight:normal;-webkit-text-stroke:0.15px currentColor;transform:scaleX(0.9606);transform-origin:0 50%;--fw:246.20"><span>(PBRS부모양육태도검사+RCTI성격유형)</span></div>
<div style="position:absolute;left:468px;top:2195.1px;width:51px;height:1.0px;background:#fff;"></div>
<div class="t" style="top:2163.1px;left:393.5px;width:200px;text-align:center;font-size:17px;color:#fff;font-weight:normal;-webkit-text-stroke:0.55px #fff;transform:scaleX(0.9216);transform-origin:50% 50%;--fw:47.00"><span>전학년</span></div>
<div style="position:absolute;left:548px;top:2193.6px;width:51px;height:1.0px;background:#fff;"></div>
<div class="t" style="top:2162.1px;left:469.5px;width:200px;text-align:center;font-size:18px;color:#fff;font-weight:normal;-webkit-text-stroke:0.55px #fff;transform-origin:50% 50%;--fw:48.05"><span>100분</span></div>
<div style="position:absolute;left:630px;top:2192.6px;width:51px;height:1.0px;background:#fff;"></div>
<div class="t" style="top:2161.6px;left:554.5px;width:200px;text-align:center;font-size:18px;color:#fff;font-weight:normal;-webkit-text-stroke:0.55px #fff;transform-origin:50% 50%;--fw:45.05"><span>6,000</span></div>
<div style="position:absolute;left:714px;top:2192.1px;width:82px;height:1.0px;background:#fff;"></div>
<div class="t" style="top:2143.1px;left:652.5px;width:200px;text-align:center;font-size:16px;color:#fff;font-weight:normal;-webkit-text-stroke:0.55px #fff;transform-origin:50% 50%;--fw:58.70"><span>330문항</span></div>
<div class="t" style="top:2160.1px;left:653.5px;width:200px;text-align:center;font-size:14px;color:#fff;font-weight:normal;-webkit-text-stroke:0.3px #fff;transform-origin:50% 50%;--fw:67.72"><span>(165 / 165)</span></div>
<div style="position:absolute;left:824px;top:2194px;width:134px;height:1px;background:#fff;"></div>
<div class="t" style="top:2135.0px;left:824px;font-size:15px;color:#fff;font-weight:normal;-webkit-text-stroke:0.55px #fff;transform-origin:0 50%;--fw:119.17"><span>김재은 (이화여대)</span></div>
<div class="t" style="top:2158.7px;left:824px;font-size:15px;color:#fff;font-weight:normal;-webkit-text-stroke:0.55px #fff;transform-origin:0 50%;--fw:119.17"><span>염태호 (경희대학)</span></div>
<div class="dl" style="top:2261px"></div>
<div class="t" style="top:2206.5px;left:185.5px;font-size:18px;color:#231f20;font-weight:normal;-webkit-text-stroke:0.15px currentColor;transform:scaleX(0.9606);transform-origin:0 50%;--fw:172.90"><span>장의인성자아종합검사</span></div>
<div class="t" style="top:2229.0px;left:185.5px;font-size:14px;color:#4c6fb2;font-weight:normal;-webkit-text-stroke:0.15px currentColor;transform:scaleX(0.8127);transform-origin:0 50%;--fw:249.70"><span>(CIS창의성종합+16PF다특성인성+SCS자아개념)</span></div>
<div style="position:absolute;left:468px;top:2260.0px;width:51px;height:1.0px;background:#fff;"></div>
<div class="t" style="top:2228.0px;left:393.5px;width:200px;text-align:center;font-size:17px;color:#fff;font-weight:normal;-webkit-text-stroke:0.55px #fff;transform:scaleX(0.9216);transform-origin:50% 50%;--fw:47.00"><span>전학년</span></div>
<div style="position:absolute;left:548px;top:2258.5px;width:51px;height:1.0px;background:#fff;"></div>
<div class="t" style="top:2227.0px;left:469.5px;width:200px;text-align:center;font-size:18px;color:#fff;font-weight:normal;-webkit-text-stroke:0.55px #fff;transform-origin:50% 50%;--fw:48.05"><span>150분</span></div>
<div style="position:absolute;left:630px;top:2257.5px;width:51px;height:1.0px;background:#fff;"></div>
<div class="t" style="top:2226.5px;left:554.5px;width:200px;text-align:center;font-size:18px;color:#fff;font-weight:normal;-webkit-text-stroke:0.55px #fff;transform-origin:50% 50%;--fw:55.06"><span>15,000</span></div>
<div style="position:absolute;left:714px;top:2257.0px;width:82px;height:1.0px;background:#fff;"></div>
<div class="t" style="top:2208.0px;left:652.5px;width:200px;text-align:center;font-size:16px;color:#fff;font-weight:normal;-webkit-text-stroke:0.55px #fff;transform-origin:50% 50%;--fw:58.70"><span>304문항</span></div>
<div class="t" style="top:2225.0px;left:653.5px;width:200px;text-align:center;font-size:13.5px;color:#fff;font-weight:normal;letter-spacing:-0.2px;-webkit-text-stroke:0.3px #fff;transform-origin:50% 50%;--fw:81.06"><span>(20 / 165 / 89)</span></div>
<div style="position:absolute;left:824px;top:2259px;width:134px;height:1px;background:#fff;"></div>
<div class="t" style="top:2189.8px;left:822px;font-size:14.5px;color:#fff;font-weight:normal;-webkit-text-stroke:0.55px #fff;transform:scaleX(0.8568);transform-origin:0 50%;--fw:127.40"><span>임인재(서울대) 송인섭</span></div>
<div class="t" style="top:2208.7px;left:822px;font-size:14.5px;color:#fff;font-weight:normal;-webkit-text-stroke:0.55px #fff;transform:scaleX(0.8642);transform-origin:0 50%;--fw:122.50"><span>(숙명여대), 염태호/김</span></div>
<div class="t" style="top:2227.5px;left:822px;font-size:14.5px;color:#fff;font-weight:normal;-webkit-text-stroke:0.55px #fff;transform:scaleX(0.8767);transform-origin:0 50%;--fw:143.50"><span>정규(경희대학/성신여대)</span></div>
<div class="dl" style="top:2326px"></div>
<div class="t" style="top:2271.0px;left:185.5px;font-size:18px;color:#231f20;font-weight:normal;-webkit-text-stroke:0.15px currentColor;transform:scaleX(0.9608);transform-origin:0 50%;--fw:170.70"><span>AAT학업적성진단검사</span></div>
<div class="t" style="top:2293.5px;left:185.5px;font-size:14px;color:#231f20;font-weight:normal;-webkit-text-stroke:0.15px currentColor;transform-origin:0 50%;--fw:111.22"><span>(반편성용 검사지)</span></div>
<div style="position:absolute;left:468px;top:2324.5px;width:51px;height:1.0px;background:#fff;"></div>
<div class="t" style="top:2292.5px;left:393.5px;width:200px;text-align:center;font-size:17px;color:#fff;font-weight:normal;-webkit-text-stroke:0.55px #fff;transform:scaleX(0.9216);transform-origin:50% 50%;--fw:47.00"><span>신입생</span></div>
<div style="position:absolute;left:548px;top:2323.0px;width:51px;height:1.0px;background:#fff;"></div>
<div class="t" style="top:2291.5px;left:469.5px;width:200px;text-align:center;font-size:18px;color:#fff;font-weight:normal;-webkit-text-stroke:0.55px #fff;transform-origin:50% 50%;--fw:38.03"><span>50분</span></div>
<div style="position:absolute;left:630px;top:2322.0px;width:51px;height:1.0px;background:#fff;"></div>
<div class="t" style="top:2291.0px;left:554.5px;width:200px;text-align:center;font-size:18px;color:#fff;font-weight:normal;-webkit-text-stroke:0.55px #fff;transform-origin:50% 50%;--fw:45.05"><span>3,000</span></div>
<div style="position:absolute;left:714px;top:2321.5px;width:82px;height:1.0px;background:#fff;"></div>
<div class="t" style="top:2291.5px;left:653.5px;width:200px;text-align:center;font-size:16px;color:#fff;font-weight:normal;-webkit-text-stroke:0.55px #fff;transform:scaleX(0.9591);transform-origin:50% 50%;--fw:81.00"><span>해당 문항수</span></div>
<div style="position:absolute;left:824px;top:2324px;width:134px;height:1px;background:#fff;"></div>
<div class="t" style="top:2290.7px;left:825px;font-size:15px;color:#fff;font-weight:normal;-webkit-text-stroke:0.55px #fff;transform-origin:0 50%;--fw:119.17"><span>김아영 (이화여대)</span></div>
<div class="dl" style="top:2391px"></div>
<div class="t" style="top:2336.5px;left:185.5px;font-size:18px;color:#231f20;font-weight:normal;-webkit-text-stroke:0.15px currentColor;transform:scaleX(0.9665);transform-origin:0 50%;--fw:169.80"><span>LAT학습능력진단검사</span></div>
<div class="t" style="top:2359.0px;left:185.5px;font-size:14px;color:#231f20;font-weight:normal;-webkit-text-stroke:0.15px currentColor;transform-origin:0 50%;--fw:111.22"><span>(반편성용 검사지)</span></div>
<div style="position:absolute;left:468px;top:2390.0px;width:51px;height:1.0px;background:#fff;"></div>
<div class="t" style="top:2358.0px;left:393.5px;width:200px;text-align:center;font-size:17px;color:#fff;font-weight:normal;-webkit-text-stroke:0.55px #fff;transform:scaleX(0.9216);transform-origin:50% 50%;--fw:47.00"><span>신입생</span></div>
<div style="position:absolute;left:548px;top:2388.5px;width:51px;height:1.0px;background:#fff;"></div>
<div class="t" style="top:2357.0px;left:469.5px;width:200px;text-align:center;font-size:18px;color:#fff;font-weight:normal;-webkit-text-stroke:0.55px #fff;transform-origin:50% 50%;--fw:38.03"><span>50분</span></div>
<div style="position:absolute;left:630px;top:2387.5px;width:51px;height:1.0px;background:#fff;"></div>
<div class="t" style="top:2356.5px;left:554.5px;width:200px;text-align:center;font-size:18px;color:#fff;font-weight:normal;-webkit-text-stroke:0.55px #fff;transform-origin:50% 50%;--fw:45.05"><span>3,000</span></div>
<div style="position:absolute;left:714px;top:2387.0px;width:82px;height:1.0px;background:#fff;"></div>
<div class="t" style="top:2355.0px;left:653.5px;width:200px;text-align:center;font-size:16px;color:#fff;font-weight:normal;-webkit-text-stroke:0.55px #fff;transform:scaleX(0.9591);transform-origin:50% 50%;--fw:81.00"><span>해당 문항수</span></div>
<div style="position:absolute;left:824px;top:2390px;width:134px;height:1px;background:#fff;"></div>
<div class="t" style="top:2353.2px;left:825px;font-size:15px;color:#fff;font-weight:normal;-webkit-text-stroke:0.55px #fff;transform-origin:0 50%;--fw:104.17"><span>박병관 (고려대)</span></div>
<div class="dl" style="top:2455px"></div>
<div class="t" style="top:2400.9px;left:185.5px;font-size:18px;color:#231f20;font-weight:normal;-webkit-text-stroke:0.15px currentColor;transform:scaleX(0.9708);transform-origin:0 50%;--fw:164.10"><span>16PF다특성인성검사</span></div>
<div class="t" style="top:2423.4px;left:185.5px;font-size:14px;color:#231f20;font-weight:normal;-webkit-text-stroke:0.15px currentColor;transform-origin:0 50%;--fw:111.22"><span>(반편성용 검사지)</span></div>
<div style="position:absolute;left:468px;top:2454.4px;width:51px;height:1.0px;background:#fff;"></div>
<div class="t" style="top:2422.4px;left:393.5px;width:200px;text-align:center;font-size:17px;color:#fff;font-weight:normal;-webkit-text-stroke:0.55px #fff;transform:scaleX(0.9216);transform-origin:50% 50%;--fw:47.00"><span>신입생</span></div>
<div style="position:absolute;left:548px;top:2452.9px;width:51px;height:1.0px;background:#fff;"></div>
<div class="t" style="top:2421.4px;left:469.5px;width:200px;text-align:center;font-size:18px;color:#fff;font-weight:normal;-webkit-text-stroke:0.55px #fff;transform-origin:50% 50%;--fw:38.03"><span>50분</span></div>
<div style="position:absolute;left:630px;top:2451.9px;width:51px;height:1.0px;background:#fff;"></div>
<div class="t" style="top:2420.9px;left:554.5px;width:200px;text-align:center;font-size:18px;color:#fff;font-weight:normal;-webkit-text-stroke:0.55px #fff;transform-origin:50% 50%;--fw:45.05"><span>3,000</span></div>
<div style="position:absolute;left:714px;top:2451.4px;width:82px;height:1.0px;background:#fff;"></div>
<div class="t" style="top:2417.4px;left:653.5px;width:200px;text-align:center;font-size:16px;color:#fff;font-weight:normal;-webkit-text-stroke:0.55px #fff;transform:scaleX(0.9591);transform-origin:50% 50%;--fw:81.00"><span>해당 문항수</span></div>
<div style="position:absolute;left:824px;top:2455px;width:134px;height:1px;background:#fff;"></div>
<div class="t" style="top:2396.3px;left:825px;font-size:15px;color:#fff;font-weight:normal;-webkit-text-stroke:0.55px #fff;transform-origin:0 50%;--fw:104.17"><span>염태호 (경희대)</span></div>
<div class="t" style="top:2418.8px;left:825px;font-size:15px;color:#fff;font-weight:normal;-webkit-text-stroke:0.55px #fff;transform-origin:0 50%;--fw:119.17"><span>김정규 (성신여대)</span></div>
<div class="dl" style="top:2522px"></div>
<div class="t" style="top:2488.5px;left:185.5px;font-size:18px;color:#231f20;font-weight:normal;-webkit-text-stroke:0.15px currentColor;transform:scaleX(0.9610);transform-origin:0 50%;--fw:143.20"><span>진로캠프 프로그램</span></div>
<div style="position:absolute;left:468px;top:2521.0px;width:51px;height:1.0px;background:#fff;"></div>
<div class="t" style="top:2489.0px;left:394.5px;width:200px;text-align:center;font-size:15px;color:#fff;font-weight:normal;-webkit-text-stroke:0.55px #fff;transform:scaleX(1.0008);transform-origin:50% 50%;--fw:55.50"><span>1~3학년</span></div>
<div style="position:absolute;left:548px;top:2519.5px;width:51px;height:1.0px;background:#fff;"></div>
<div class="t" style="top:2486.5px;left:469.5px;width:200px;text-align:center;font-size:16px;color:#fff;font-weight:normal;-webkit-text-stroke:0.55px #fff;transform-origin:50% 50%;--fw:40.91"><span>1교시</span></div>
<div style="position:absolute;left:630px;top:2518.5px;width:51px;height:1.0px;background:#fff;"></div>
<div class="t" style="top:2470.5px;left:553.5px;width:200px;text-align:center;font-size:17px;color:#fff;font-weight:normal;-webkit-text-stroke:0.55px #fff;transform-origin:50% 50%;--fw:52.00"><span>15,000</span></div>
<div class="t" style="top:2487.5px;left:554.5px;width:200px;text-align:center;font-size:12.5px;color:#fff;font-weight:normal;letter-spacing:-0.5px;-webkit-text-stroke:0.3px #fff;transform-origin:50% 50%;--fw:66.75"><span>(1인당/시간)</span></div>
<div style="position:absolute;left:714px;top:2518.0px;width:82px;height:1.0px;background:#fff;"></div>
<div style="position:absolute;left:750px;top:2485.0px;width:4px;height:4.0px;background:#fff;"></div>
<div style="position:absolute;left:824px;top:2520px;width:134px;height:1px;background:#fff;"></div>
<div class="t" style="top:2450.3px;left:828px;font-size:16.5px;color:#fff;font-weight:normal;-webkit-text-stroke:0.55px #fff;transform:scaleX(0.8865);transform-origin:0 50%;--fw:94.50"><span>진행횟수 협의</span></div>
<div class="t" style="top:2469.9px;left:828px;font-size:13px;color:#fff;font-weight:normal;-webkit-text-stroke:0.3px #fff;transform:scaleX(1.0384);transform-origin:0 50%;--fw:93.00"><span>(최소신청인원 :</span></div>
<div class="t" style="top:2488.0px;left:828px;font-size:14.5px;color:#fff;font-weight:normal;-webkit-text-stroke:0.55px #fff;transform:scaleX(0.9284);transform-origin:0 50%;--fw:110.50"><span>학년당 20명 이상)</span></div>
<div class="dl" style="top:2588px"></div>
<div class="t" style="top:2554.2px;left:185.5px;font-size:18px;color:#231f20;font-weight:normal;-webkit-text-stroke:0.15px currentColor;transform:scaleX(0.9610);transform-origin:0 50%;--fw:143.20"><span>학습캠프 프로그램</span></div>
<div style="position:absolute;left:468px;top:2586.7px;width:51px;height:1.0px;background:#fff;"></div>
<div class="t" style="top:2554.7px;left:394.5px;width:200px;text-align:center;font-size:15px;color:#fff;font-weight:normal;-webkit-text-stroke:0.55px #fff;transform:scaleX(1.0008);transform-origin:50% 50%;--fw:55.50"><span>1~3학년</span></div>
<div style="position:absolute;left:548px;top:2585.2px;width:51px;height:1.0px;background:#fff;"></div>
<div class="t" style="top:2552.2px;left:469.5px;width:200px;text-align:center;font-size:16px;color:#fff;font-weight:normal;-webkit-text-stroke:0.55px #fff;transform-origin:50% 50%;--fw:40.91"><span>1교시</span></div>
<div style="position:absolute;left:630px;top:2584.2px;width:51px;height:1.0px;background:#fff;"></div>
<div class="t" style="top:2536.2px;left:553.5px;width:200px;text-align:center;font-size:17px;color:#fff;font-weight:normal;-webkit-text-stroke:0.55px #fff;transform-origin:50% 50%;--fw:52.00"><span>15,000</span></div>
<div class="t" style="top:2553.2px;left:554.5px;width:200px;text-align:center;font-size:12.5px;color:#fff;font-weight:normal;letter-spacing:-0.5px;-webkit-text-stroke:0.3px #fff;transform-origin:50% 50%;--fw:66.75"><span>(1인당/시간)</span></div>
<div style="position:absolute;left:714px;top:2583.7px;width:82px;height:1.0px;background:#fff;"></div>
<div style="position:absolute;left:750px;top:2550.7px;width:4px;height:4.0px;background:#fff;"></div>
<div style="position:absolute;left:824px;top:2586px;width:134px;height:1px;background:#fff;"></div>
<div class="t" style="top:2516.0px;left:828px;font-size:16.5px;color:#fff;font-weight:normal;-webkit-text-stroke:0.55px #fff;transform:scaleX(0.8865);transform-origin:0 50%;--fw:94.50"><span>진행횟수 협의</span></div>
<div class="t" style="top:2535.6px;left:828px;font-size:13px;color:#fff;font-weight:normal;-webkit-text-stroke:0.3px #fff;transform:scaleX(1.0384);transform-origin:0 50%;--fw:93.00"><span>(최소신청인원 :</span></div>
<div class="t" style="top:2553.7px;left:828px;font-size:14.5px;color:#fff;font-weight:normal;-webkit-text-stroke:0.55px #fff;transform:scaleX(0.9284);transform-origin:0 50%;--fw:110.50"><span>학년당 20명 이상)</span></div>
<div class="dl" style="top:2650px"></div>
<div class="t" style="top:2616.3px;left:185.5px;font-size:18px;color:#231f20;font-weight:normal;-webkit-text-stroke:0.15px currentColor;transform:scaleX(0.9610);transform-origin:0 50%;--fw:143.20"><span>인성캠프 프로그램</span></div>
<div style="position:absolute;left:468px;top:2648.8px;width:51px;height:1.0px;background:#fff;"></div>
<div class="t" style="top:2616.8px;left:394.5px;width:200px;text-align:center;font-size:15px;color:#fff;font-weight:normal;-webkit-text-stroke:0.55px #fff;transform:scaleX(1.0008);transform-origin:50% 50%;--fw:55.50"><span>1~3학년</span></div>
<div style="position:absolute;left:548px;top:2647.3px;width:51px;height:1.0px;background:#fff;"></div>
<div class="t" style="top:2614.3px;left:469.5px;width:200px;text-align:center;font-size:16px;color:#fff;font-weight:normal;-webkit-text-stroke:0.55px #fff;transform-origin:50% 50%;--fw:40.91"><span>1교시</span></div>
<div style="position:absolute;left:630px;top:2646.3px;width:51px;height:1.0px;background:#fff;"></div>
<div class="t" style="top:2598.3px;left:553.5px;width:200px;text-align:center;font-size:17px;color:#fff;font-weight:normal;-webkit-text-stroke:0.55px #fff;transform-origin:50% 50%;--fw:52.00"><span>15,000</span></div>
<div class="t" style="top:2615.3px;left:554.5px;width:200px;text-align:center;font-size:12.5px;color:#fff;font-weight:normal;letter-spacing:-0.5px;-webkit-text-stroke:0.3px #fff;transform-origin:50% 50%;--fw:66.75"><span>(1인당/시간)</span></div>
<div style="position:absolute;left:714px;top:2645.8px;width:82px;height:1.0px;background:#fff;"></div>
<div style="position:absolute;left:750px;top:2612.8px;width:4px;height:4.0px;background:#fff;"></div>
<div style="position:absolute;left:824px;top:2648px;width:134px;height:1px;background:#fff;"></div>
<div class="t" style="top:2578.1000000000004px;left:828px;font-size:16.5px;color:#fff;font-weight:normal;-webkit-text-stroke:0.55px #fff;transform:scaleX(0.8865);transform-origin:0 50%;--fw:94.50"><span>진행횟수 협의</span></div>
<div class="t" style="top:2597.7000000000003px;left:828px;font-size:13px;color:#fff;font-weight:normal;-webkit-text-stroke:0.3px #fff;transform:scaleX(1.0384);transform-origin:0 50%;--fw:93.00"><span>(최소신청인원 :</span></div>
<div class="t" style="top:2615.8px;left:828px;font-size:14.5px;color:#fff;font-weight:normal;-webkit-text-stroke:0.55px #fff;transform:scaleX(0.9284);transform-origin:0 50%;--fw:110.50"><span>학년당 20명 이상)</span></div>
<div class="dl" style="top:2714px"></div>
<div class="t" style="top:2680.3px;left:185.5px;font-size:18px;color:#231f20;font-weight:normal;-webkit-text-stroke:0.15px currentColor;transform:scaleX(0.9610);transform-origin:0 50%;--fw:143.20"><span>창의캠프 프로그램</span></div>
<div style="position:absolute;left:468px;top:2712.8px;width:51px;height:1.0px;background:#fff;"></div>
<div class="t" style="top:2680.8px;left:394.5px;width:200px;text-align:center;font-size:15px;color:#fff;font-weight:normal;-webkit-text-stroke:0.55px #fff;transform:scaleX(1.0008);transform-origin:50% 50%;--fw:55.50"><span>1~3학년</span></div>
<div style="position:absolute;left:548px;top:2711.3px;width:51px;height:1.0px;background:#fff;"></div>
<div class="t" style="top:2678.3px;left:469.5px;width:200px;text-align:center;font-size:16px;color:#fff;font-weight:normal;-webkit-text-stroke:0.55px #fff;transform-origin:50% 50%;--fw:40.91"><span>1교시</span></div>
<div style="position:absolute;left:630px;top:2710.3px;width:51px;height:1.0px;background:#fff;"></div>
<div class="t" style="top:2662.3px;left:553.5px;width:200px;text-align:center;font-size:17px;color:#fff;font-weight:normal;-webkit-text-stroke:0.55px #fff;transform-origin:50% 50%;--fw:52.00"><span>15,000</span></div>
<div class="t" style="top:2679.3px;left:554.5px;width:200px;text-align:center;font-size:12.5px;color:#fff;font-weight:normal;letter-spacing:-0.5px;-webkit-text-stroke:0.3px #fff;transform-origin:50% 50%;--fw:66.75"><span>(1인당/시간)</span></div>
<div style="position:absolute;left:714px;top:2709.8px;width:82px;height:1.0px;background:#fff;"></div>
<div style="position:absolute;left:750px;top:2676.8px;width:4px;height:4.0px;background:#fff;"></div>
<div style="position:absolute;left:824px;top:2712px;width:134px;height:1px;background:#fff;"></div>
<div class="t" style="top:2642.1000000000004px;left:828px;font-size:16.5px;color:#fff;font-weight:normal;-webkit-text-stroke:0.55px #fff;transform:scaleX(0.8865);transform-origin:0 50%;--fw:94.50"><span>진행횟수 협의</span></div>
<div class="t" style="top:2661.7000000000003px;left:828px;font-size:13px;color:#fff;font-weight:normal;-webkit-text-stroke:0.3px #fff;transform:scaleX(1.0384);transform-origin:0 50%;--fw:93.00"><span>(최소신청인원 :</span></div>
<div class="t" style="top:2679.8px;left:828px;font-size:14.5px;color:#fff;font-weight:normal;-webkit-text-stroke:0.55px #fff;transform:scaleX(0.9284);transform-origin:0 50%;--fw:110.50"><span>학년당 20명 이상)</span></div>
<div class="t" style="top:2738.0px;left:153px;font-size:18px;color:#231f20;font-weight:normal;transform-origin:0 50%;--fw:584.05"><span>※ 모든 검사의 최소 구매 수량은 학년당, 검사별 50명 이상에 적용됩니다.</span></div>
<div class="t" style="top:2760.8px;left:152px;font-size:18px;color:#231f20;font-weight:normal;transform:scaleX(1.0178);transform-origin:0 50%;--fw:680.00"><span>※ <span style="color:#e0245e">TSR (Trans Script Record) 해당 검사는 검사명이 붉은 색</span>에 해당하는 검사입니다.</span></div>
<script>
(function(){var d=document.querySelectorAll('.t'),i,w=[];for(i=0;i<d.length;i++)d[i].style.transform='none';for(i=0;i<d.length;i++)w.push(d[i].firstChild.getBoundingClientRect().width);for(i=0;i<d.length;i++){var f=parseFloat(d[i].style.getPropertyValue('--fw'));if(f>0&&w[i]>0)d[i].style.transform='scaleX('+(f/w[i]).toFixed(4)+')';}})();
</script>
</body></html>
